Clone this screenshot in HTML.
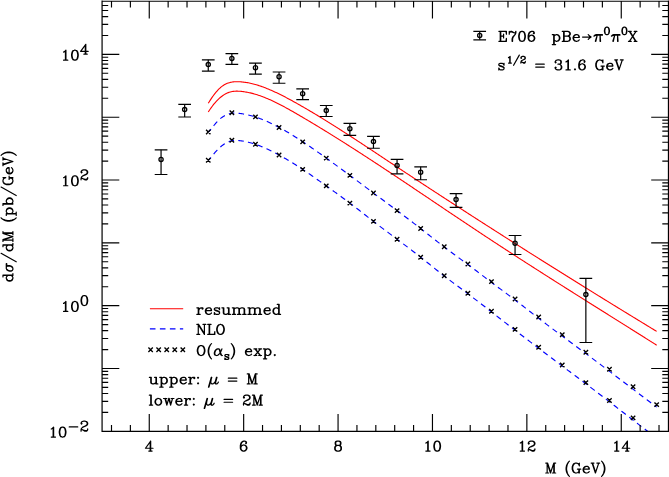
<!DOCTYPE html>
<html><head><meta charset="utf-8"><title>plot</title>
<style>html,body{margin:0;padding:0;background:#fff;font-family:"Liberation Serif",serif}svg{display:block}text{font-family:"Liberation Serif",serif;font-size:14px;fill:#000;fill-opacity:0;stroke:none}</style></head>
<body><svg width="669" height="477" viewBox="0 0 669 477">
<rect width="669" height="477" fill="#fff"/>
<g fill="none" stroke-linecap="butt" stroke-linejoin="round">
<path d="M208.26 131.98 L209.26 131.02 L210.26 129.99 L211.26 128.91 L212.26 127.59 L213.26 126.26 L214.26 125 L215.26 123.82 L216.26 122.7 L217.26 121.65 L218.26 120.64 L219.26 119.66 L220.26 118.73 L221.26 117.91 L222.26 117.17 L223.26 116.5 L224.26 115.91 L225.26 115.38 L226.26 114.9 L227.26 114.46 L228.26 114.07 L229.26 113.73 L230.26 113.46 L231.26 113.27 L232.26 113.17 L233.26 113.12 L234.26 113.1 L235.26 113.11 L236.26 113.15 L237.26 113.22 L238.26 113.3 L239.26 113.4 L240.26 113.51 L241.26 113.64 L242.26 113.79 L243.26 113.95 L244.26 114.12 L245.26 114.31 L246.26 114.51 L247.26 114.73 L248.26 114.96 L249.26 115.21 L250.26 115.46 L251.26 115.73 L252.26 116.02 L253.26 116.31 L254.26 116.62 L255.26 116.93 L256.26 117.26 L257.26 117.61 L258.26 117.96 L259.26 118.32 L260.26 118.69 L261.26 119.08 L262.26 119.47 L263.26 119.87 L264.26 120.29 L265.26 120.71 L266.26 121.14 L267.26 121.58 L268.26 122.03 L269.26 122.49 L270.26 122.96 L271.26 123.43 L272.26 123.92 L273.26 124.41 L274.26 124.9 L275.26 125.41 L276.26 125.92 L277.26 126.44 L278.26 126.97 L279.26 127.51 L280.26 128.05 L281.26 128.6 L282.26 129.16 L283.26 129.72 L284.26 130.29 L285.26 130.86 L286.26 131.44 L287.26 132.03 L288.26 132.62 L289.26 133.22 L290.26 133.83 L291.26 134.44 L292.26 135.05 L293.26 135.67 L294.26 136.29 L295.26 136.92 L296.26 137.56 L297.26 138.19 L298.26 138.83 L299.26 139.48 L300.26 140.13 L301.26 140.78 L302.26 141.44 L303.26 142.1 L304.26 142.76 L305.26 143.43 L306.26 144.1 L307.26 144.77 L308.26 145.45 L309.26 146.13 L310.26 146.82 L311.26 147.5 L312.26 148.19 L313.26 148.89 L314.26 149.58 L315.26 150.28 L316.26 150.98 L317.26 151.68 L318.26 152.39 L319.26 153.1 L320.26 153.81 L321.26 154.52 L322.26 155.23 L323.26 155.95 L324.26 156.66 L325.26 157.38 L326.26 158.1 L327.26 158.82 L328.26 159.54 L329.26 160.27 L330.26 160.99 L331.26 161.72 L332.26 162.45 L333.26 163.17 L334.26 163.9 L335.26 164.63 L336.26 165.37 L337.26 166.1 L338.26 166.83 L339.26 167.57 L340.26 168.3 L341.26 169.04 L342.26 169.77 L343.26 170.51 L344.26 171.25 L345.26 171.99 L346.26 172.73 L347.26 173.47 L348.26 174.21 L349.26 174.95 L350.26 175.7 L351.26 176.44 L352.26 177.18 L353.26 177.93 L354.26 178.67 L355.26 179.42 L356.26 180.16 L357.26 180.91 L358.26 181.65 L359.26 182.4 L360.26 183.14 L361.26 183.89 L362.26 184.64 L363.26 185.38 L364.26 186.13 L365.26 186.88 L366.26 187.62 L367.26 188.37 L368.26 189.12 L369.26 189.86 L370.26 190.61 L371.26 191.36 L372.26 192.1 L373.26 192.85 L374.26 193.6 L375.26 194.34 L376.26 195.09 L377.26 195.83 L378.26 196.58 L379.26 197.32 L380.26 198.07 L381.26 198.81 L382.26 199.56 L383.26 200.3 L384.26 201.05 L385.26 201.79 L386.26 202.54 L387.26 203.29 L388.26 204.03 L389.26 204.78 L390.26 205.52 L391.26 206.27 L392.26 207.01 L393.26 207.76 L394.26 208.51 L395.26 209.25 L396.26 210 L397.26 210.75 L398.26 211.5 L399.26 212.25 L400.26 213 L401.26 213.75 L402.26 214.5 L403.26 215.25 L404.26 216 L405.26 216.76 L406.26 217.51 L407.26 218.27 L408.26 219.03 L409.26 219.79 L410.26 220.55 L411.26 221.31 L412.26 222.07 L413.26 222.84 L414.26 223.6 L415.26 224.37 L416.26 225.14 L417.26 225.91 L418.26 226.69 L419.26 227.46 L420.26 228.24 L421.26 229.02 L422.26 229.8 L423.26 230.58 L424.26 231.37 L425.26 232.15 L426.26 232.94 L427.26 233.73 L428.26 234.52 L429.26 235.31 L430.26 236.09 L431.26 236.88 L432.26 237.67 L433.26 238.46 L434.26 239.24 L435.26 240.03 L436.26 240.81 L437.26 241.59 L438.26 242.37 L439.26 243.15 L440.26 243.93 L441.26 244.7 L442.26 245.47 L443.26 246.24 L444.26 247 L445.26 247.76 L446.26 248.52 L447.26 249.27 L448.26 250.02 L449.26 250.77 L450.26 251.51 L451.26 252.25 L452.26 252.99 L453.26 253.73 L454.26 254.47 L455.26 255.21 L456.26 255.94 L457.26 256.68 L458.26 257.41 L459.26 258.15 L460.26 258.88 L461.26 259.62 L462.26 260.36 L463.26 261.09 L464.26 261.83 L465.26 262.57 L466.26 263.31 L467.26 264.05 L468.26 264.8 L469.26 265.55 L470.26 266.29 L471.26 267.05 L472.26 267.8 L473.26 268.55 L474.26 269.31 L475.26 270.07 L476.26 270.82 L477.26 271.58 L478.26 272.34 L479.26 273.1 L480.26 273.86 L481.26 274.62 L482.26 275.38 L483.26 276.14 L484.26 276.9 L485.26 277.66 L486.26 278.42 L487.26 279.18 L488.26 279.94 L489.26 280.69 L490.26 281.45 L491.26 282.2 L492.26 282.95 L493.26 283.7 L494.26 284.45 L495.26 285.19 L496.26 285.94 L497.26 286.68 L498.26 287.43 L499.26 288.17 L500.26 288.91 L501.26 289.66 L502.26 290.4 L503.26 291.14 L504.26 291.89 L505.26 292.63 L506.26 293.38 L507.26 294.12 L508.26 294.87 L509.26 295.62 L510.26 296.37 L511.26 297.12 L512.26 297.88 L513.26 298.63 L514.26 299.39 L515.26 300.15 L516.26 300.92 L517.26 301.68 L518.26 302.45 L519.26 303.22 L520.26 304 L521.26 304.77 L522.26 305.55 L523.26 306.32 L524.26 307.1 L525.26 307.88 L526.26 308.66 L527.26 309.44 L528.26 310.22 L529.26 311 L530.26 311.78 L531.26 312.56 L532.26 313.34 L533.26 314.12 L534.26 314.9 L535.26 315.67 L536.26 316.45 L537.26 317.22 L538.26 317.99 L539.26 318.76 L540.26 319.53 L541.26 320.29 L542.26 321.06 L543.26 321.82 L544.26 322.58 L545.26 323.33 L546.26 324.09 L547.26 324.85 L548.26 325.6 L549.26 326.35 L550.26 327.1 L551.26 327.85 L552.26 328.6 L553.26 329.35 L554.26 330.1 L555.26 330.84 L556.26 331.59 L557.26 332.33 L558.26 333.08 L559.26 333.82 L560.26 334.56 L561.26 335.31 L562.26 336.05 L563.26 336.79 L564.26 337.54 L565.26 338.28 L566.26 339.02 L567.26 339.76 L568.26 340.51 L569.26 341.25 L570.26 341.99 L571.26 342.74 L572.26 343.48 L573.26 344.22 L574.26 344.97 L575.26 345.71 L576.26 346.45 L577.26 347.2 L578.26 347.94 L579.26 348.68 L580.26 349.43 L581.26 350.17 L582.26 350.92 L583.26 351.66 L584.26 352.41 L585.26 353.15 L586.26 353.9 L587.26 354.64 L588.26 355.39 L589.26 356.14 L590.26 356.88 L591.26 357.63 L592.26 358.38 L593.26 359.13 L594.26 359.88 L595.26 360.63 L596.26 361.37 L597.26 362.12 L598.26 362.87 L599.26 363.62 L600.26 364.37 L601.26 365.13 L602.26 365.88 L603.26 366.63 L604.26 367.38 L605.26 368.13 L606.26 368.89 L607.26 369.64 L608.26 370.39 L609.26 371.15 L610.26 371.9 L611.26 372.66 L612.26 373.41 L613.26 374.17 L614.26 374.93 L615.26 375.68 L616.26 376.44 L617.26 377.2 L618.26 377.96 L619.26 378.71 L620.26 379.47 L621.26 380.23 L622.26 380.99 L623.26 381.75 L624.26 382.51 L625.26 383.27 L626.26 384.03 L627.26 384.79 L628.26 385.55 L629.26 386.31 L630.26 387.07 L631.26 387.83 L632.26 388.59 L633.26 389.35 L634.26 390.11 L635.26 390.87 L636.26 391.64 L637.26 392.4 L638.26 393.16 L639.26 393.92 L640.26 394.68 L641.26 395.44 L642.26 396.2 L643.26 396.96 L644.26 397.72 L645.26 398.49 L646.26 399.25 L647.26 400.01 L648.26 400.77 L649.26 401.53 L650.26 402.29 L651.26 403.05 L652.26 403.81 L653.26 404.57 L654.26 405.33 L655.26 406.09 L656.66 407.15" stroke="#00f" stroke-width="1.15" stroke-dasharray="5.5 4.32" stroke-dashoffset="1.6"/>
<path d="M208.26 160.28 L209.26 159.34 L210.26 158.31 L211.26 157.25 L212.26 155.95 L213.26 154.63 L214.26 153.39 L215.26 152.21 L216.26 151.1 L217.26 150.05 L218.26 149.03 L219.26 148.03 L220.26 147.08 L221.26 146.21 L222.26 145.42 L223.26 144.69 L224.26 144.03 L225.26 143.42 L226.26 142.85 L227.26 142.32 L228.26 141.84 L229.26 141.43 L230.26 141.08 L231.26 140.81 L232.26 140.64 L233.26 140.53 L234.26 140.46 L235.26 140.42 L236.26 140.42 L237.26 140.45 L238.26 140.52 L239.26 140.61 L240.26 140.72 L241.26 140.85 L242.26 141 L243.26 141.16 L244.26 141.34 L245.26 141.53 L246.26 141.74 L247.26 141.96 L248.26 142.2 L249.26 142.45 L250.26 142.72 L251.26 143 L252.26 143.29 L253.26 143.59 L254.26 143.91 L255.26 144.23 L256.26 144.57 L257.26 144.92 L258.26 145.29 L259.26 145.66 L260.26 146.05 L261.26 146.44 L262.26 146.85 L263.26 147.26 L264.26 147.69 L265.26 148.13 L266.26 148.57 L267.26 149.03 L268.26 149.49 L269.26 149.96 L270.26 150.44 L271.26 150.93 L272.26 151.43 L273.26 151.93 L274.26 152.44 L275.26 152.96 L276.26 153.49 L277.26 154.02 L278.26 154.56 L279.26 155.11 L280.26 155.66 L281.26 156.22 L282.26 156.78 L283.26 157.36 L284.26 157.93 L285.26 158.51 L286.26 159.1 L287.26 159.69 L288.26 160.29 L289.26 160.89 L290.26 161.5 L291.26 162.11 L292.26 162.73 L293.26 163.35 L294.26 163.97 L295.26 164.6 L296.26 165.24 L297.26 165.88 L298.26 166.52 L299.26 167.17 L300.26 167.82 L301.26 168.48 L302.26 169.13 L303.26 169.8 L304.26 170.47 L305.26 171.14 L306.26 171.82 L307.26 172.5 L308.26 173.18 L309.26 173.87 L310.26 174.56 L311.26 175.26 L312.26 175.95 L313.26 176.65 L314.26 177.36 L315.26 178.06 L316.26 178.77 L317.26 179.47 L318.26 180.18 L319.26 180.9 L320.26 181.61 L321.26 182.32 L322.26 183.04 L323.26 183.75 L324.26 184.47 L325.26 185.18 L326.26 185.9 L327.26 186.62 L328.26 187.33 L329.26 188.05 L330.26 188.76 L331.26 189.48 L332.26 190.2 L333.26 190.92 L334.26 191.64 L335.26 192.36 L336.26 193.08 L337.26 193.8 L338.26 194.53 L339.26 195.25 L340.26 195.98 L341.26 196.71 L342.26 197.44 L343.26 198.18 L344.26 198.92 L345.26 199.66 L346.26 200.4 L347.26 201.15 L348.26 201.89 L349.26 202.65 L350.26 203.4 L351.26 204.16 L352.26 204.93 L353.26 205.69 L354.26 206.46 L355.26 207.23 L356.26 208 L357.26 208.78 L358.26 209.56 L359.26 210.33 L360.26 211.11 L361.26 211.89 L362.26 212.68 L363.26 213.46 L364.26 214.24 L365.26 215.02 L366.26 215.8 L367.26 216.58 L368.26 217.36 L369.26 218.14 L370.26 218.92 L371.26 219.7 L372.26 220.47 L373.26 221.25 L374.26 222.02 L375.26 222.78 L376.26 223.55 L377.26 224.31 L378.26 225.08 L379.26 225.84 L380.26 226.6 L381.26 227.35 L382.26 228.11 L383.26 228.86 L384.26 229.62 L385.26 230.37 L386.26 231.12 L387.26 231.87 L388.26 232.62 L389.26 233.37 L390.26 234.12 L391.26 234.86 L392.26 235.61 L393.26 236.36 L394.26 237.11 L395.26 237.85 L396.26 238.6 L397.26 239.35 L398.26 240.1 L399.26 240.85 L400.26 241.6 L401.26 242.35 L402.26 243.1 L403.26 243.85 L404.26 244.6 L405.26 245.35 L406.26 246.11 L407.26 246.87 L408.26 247.62 L409.26 248.38 L410.26 249.15 L411.26 249.91 L412.26 250.67 L413.26 251.44 L414.26 252.21 L415.26 252.98 L416.26 253.76 L417.26 254.54 L418.26 255.32 L419.26 256.1 L420.26 256.88 L421.26 257.67 L422.26 258.47 L423.26 259.26 L424.26 260.06 L425.26 260.85 L426.26 261.66 L427.26 262.46 L428.26 263.26 L429.26 264.06 L430.26 264.87 L431.26 265.67 L432.26 266.48 L433.26 267.28 L434.26 268.08 L435.26 268.88 L436.26 269.68 L437.26 270.48 L438.26 271.28 L439.26 272.07 L440.26 272.86 L441.26 273.65 L442.26 274.44 L443.26 275.22 L444.26 276 L445.26 276.77 L446.26 277.54 L447.26 278.31 L448.26 279.08 L449.26 279.84 L450.26 280.59 L451.26 281.35 L452.26 282.1 L453.26 282.85 L454.26 283.6 L455.26 284.35 L456.26 285.09 L457.26 285.84 L458.26 286.58 L459.26 287.33 L460.26 288.07 L461.26 288.82 L462.26 289.56 L463.26 290.31 L464.26 291.05 L465.26 291.8 L466.26 292.55 L467.26 293.3 L468.26 294.05 L469.26 294.81 L470.26 295.56 L471.26 296.32 L472.26 297.08 L473.26 297.84 L474.26 298.61 L475.26 299.37 L476.26 300.14 L477.26 300.9 L478.26 301.67 L479.26 302.44 L480.26 303.21 L481.26 303.99 L482.26 304.76 L483.26 305.53 L484.26 306.31 L485.26 307.08 L486.26 307.86 L487.26 308.64 L488.26 309.41 L489.26 310.19 L490.26 310.97 L491.26 311.74 L492.26 312.52 L493.26 313.3 L494.26 314.08 L495.26 314.85 L496.26 315.63 L497.26 316.41 L498.26 317.19 L499.26 317.96 L500.26 318.74 L501.26 319.52 L502.26 320.29 L503.26 321.07 L504.26 321.85 L505.26 322.62 L506.26 323.4 L507.26 324.17 L508.26 324.95 L509.26 325.72 L510.26 326.49 L511.26 327.27 L512.26 328.04 L513.26 328.81 L514.26 329.58 L515.26 330.35 L516.26 331.12 L517.26 331.89 L518.26 332.66 L519.26 333.43 L520.26 334.2 L521.26 334.97 L522.26 335.73 L523.26 336.5 L524.26 337.26 L525.26 338.03 L526.26 338.8 L527.26 339.56 L528.26 340.32 L529.26 341.09 L530.26 341.85 L531.26 342.61 L532.26 343.38 L533.26 344.14 L534.26 344.9 L535.26 345.66 L536.26 346.42 L537.26 347.18 L538.26 347.95 L539.26 348.71 L540.26 349.47 L541.26 350.23 L542.26 350.99 L543.26 351.75 L544.26 352.51 L545.26 353.27 L546.26 354.03 L547.26 354.78 L548.26 355.54 L549.26 356.3 L550.26 357.06 L551.26 357.81 L552.26 358.57 L553.26 359.33 L554.26 360.08 L555.26 360.84 L556.26 361.59 L557.26 362.34 L558.26 363.1 L559.26 363.85 L560.26 364.6 L561.26 365.35 L562.26 366.1 L563.26 366.85 L564.26 367.6 L565.26 368.35 L566.26 369.09 L567.26 369.84 L568.26 370.59 L569.26 371.33 L570.26 372.08 L571.26 372.82 L572.26 373.57 L573.26 374.32 L574.26 375.06 L575.26 375.81 L576.26 376.55 L577.26 377.3 L578.26 378.05 L579.26 378.8 L580.26 379.54 L581.26 380.29 L582.26 381.04 L583.26 381.79 L584.26 382.55 L585.26 383.3 L586.26 384.05 L587.26 384.81 L588.26 385.56 L589.26 386.32 L590.26 387.08 L591.26 387.84 L592.26 388.6 L593.26 389.36 L594.26 390.12 L595.26 390.88 L596.26 391.64 L597.26 392.41 L598.26 393.17 L599.26 393.94 L600.26 394.71 L601.26 395.48 L602.26 396.24 L603.26 397.01 L604.26 397.78 L605.26 398.55 L606.26 399.33 L607.26 400.1 L608.26 400.87 L609.26 401.65 L610.26 402.42 L611.26 403.19 L612.26 403.97 L613.26 404.75 L614.26 405.52 L615.26 406.3 L616.26 407.07 L617.26 407.85 L618.26 408.63 L619.26 409.41 L620.26 410.18 L621.26 410.96 L622.26 411.74 L623.26 412.51 L624.26 413.29 L625.26 414.07 L626.26 414.84 L627.26 415.62 L628.26 416.39 L629.26 417.17 L630.26 417.94 L631.26 418.71 L632.26 419.48 L633.26 420.25 L634.26 421.02 L635.26 421.79 L636.26 422.56 L637.26 423.33 L638.26 424.09 L639.26 424.86 L640.26 425.62 L641.26 426.38 L642.26 427.14 L643.26 427.9 L644.26 428.66 L645.26 429.42 L646.26 430.17 L647.26 430.92 L648.26 431.67 L649.26 432.42 L650.26 433.17 L651.26 433.92 L652.26 434.66 L653.26 435.4 L654.26 436.14 L655.26 436.87 L656.66 437.9" stroke="#00f" stroke-width="1.15" stroke-dasharray="5.5 4.32" stroke-dashoffset="1.6" clip-path="url(#cp)"/>
<path d="M149.9 328.9H183.2" stroke="#00f" stroke-width="1.15" stroke-dasharray="5.6 4.4"/>
<path d="M208.26 103.33 L209.26 101.69 L210.26 100.11 L211.26 98.58 L212.26 97.12 L213.26 95.72 L214.26 94.39 L215.26 93.11 L216.26 91.91 L217.26 90.77 L218.26 89.7 L219.26 88.71 L220.26 87.78 L221.26 86.93 L222.26 86.15 L223.26 85.44 L224.26 84.82 L225.26 84.26 L226.26 83.77 L227.26 83.34 L228.26 82.98 L229.26 82.67 L230.26 82.41 L231.26 82.2 L232.26 82.03 L233.26 81.9 L234.26 81.81 L235.26 81.75 L236.26 81.73 L237.26 81.72 L238.26 81.74 L239.26 81.77 L240.26 81.82 L241.26 81.89 L242.26 81.98 L243.26 82.08 L244.26 82.2 L245.26 82.33 L246.26 82.48 L247.26 82.64 L248.26 82.82 L249.26 83.02 L250.26 83.22 L251.26 83.45 L252.26 83.68 L253.26 83.93 L254.26 84.19 L255.26 84.47 L256.26 84.76 L257.26 85.06 L258.26 85.37 L259.26 85.69 L260.26 86.02 L261.26 86.37 L262.26 86.72 L263.26 87.09 L264.26 87.46 L265.26 87.85 L266.26 88.24 L267.26 88.64 L268.26 89.06 L269.26 89.47 L270.26 89.9 L271.26 90.34 L272.26 90.78 L273.26 91.23 L274.26 91.69 L275.26 92.15 L276.26 92.62 L277.26 93.09 L278.26 93.58 L279.26 94.06 L280.26 94.56 L281.26 95.06 L282.26 95.56 L283.26 96.07 L284.26 96.58 L285.26 97.1 L286.26 97.63 L287.26 98.15 L288.26 98.69 L289.26 99.22 L290.26 99.76 L291.26 100.31 L292.26 100.85 L293.26 101.41 L294.26 101.96 L295.26 102.52 L296.26 103.08 L297.26 103.64 L298.26 104.2 L299.26 104.77 L300.26 105.34 L301.26 105.91 L302.26 106.49 L303.26 107.06 L304.26 107.64 L305.26 108.22 L306.26 108.8 L307.26 109.39 L308.26 109.98 L309.26 110.56 L310.26 111.16 L311.26 111.75 L312.26 112.34 L313.26 112.94 L314.26 113.54 L315.26 114.14 L316.26 114.74 L317.26 115.34 L318.26 115.95 L319.26 116.56 L320.26 117.17 L321.26 117.78 L322.26 118.39 L323.26 119.01 L324.26 119.62 L325.26 120.24 L326.26 120.86 L327.26 121.48 L328.26 122.1 L329.26 122.72 L330.26 123.35 L331.26 123.98 L332.26 124.6 L333.26 125.23 L334.26 125.86 L335.26 126.5 L336.26 127.13 L337.26 127.76 L338.26 128.4 L339.26 129.04 L340.26 129.68 L341.26 130.32 L342.26 130.96 L343.26 131.6 L344.26 132.24 L345.26 132.88 L346.26 133.53 L347.26 134.17 L348.26 134.82 L349.26 135.47 L350.26 136.12 L351.26 136.77 L352.26 137.42 L353.26 138.07 L354.26 138.72 L355.26 139.37 L356.26 140.03 L357.26 140.68 L358.26 141.34 L359.26 141.99 L360.26 142.65 L361.26 143.31 L362.26 143.96 L363.26 144.62 L364.26 145.28 L365.26 145.94 L366.26 146.6 L367.26 147.26 L368.26 147.92 L369.26 148.58 L370.26 149.24 L371.26 149.9 L372.26 150.57 L373.26 151.23 L374.26 151.89 L375.26 152.55 L376.26 153.22 L377.26 153.88 L378.26 154.54 L379.26 155.21 L380.26 155.87 L381.26 156.54 L382.26 157.2 L383.26 157.86 L384.26 158.53 L385.26 159.19 L386.26 159.85 L387.26 160.52 L388.26 161.18 L389.26 161.84 L390.26 162.51 L391.26 163.17 L392.26 163.83 L393.26 164.5 L394.26 165.16 L395.26 165.82 L396.26 166.48 L397.26 167.14 L398.26 167.81 L399.26 168.47 L400.26 169.13 L401.26 169.79 L402.26 170.45 L403.26 171.11 L404.26 171.77 L405.26 172.43 L406.26 173.09 L407.26 173.75 L408.26 174.41 L409.26 175.06 L410.26 175.72 L411.26 176.38 L412.26 177.04 L413.26 177.7 L414.26 178.35 L415.26 179.01 L416.26 179.67 L417.26 180.33 L418.26 180.98 L419.26 181.64 L420.26 182.3 L421.26 182.95 L422.26 183.61 L423.26 184.26 L424.26 184.92 L425.26 185.57 L426.26 186.23 L427.26 186.88 L428.26 187.54 L429.26 188.19 L430.26 188.84 L431.26 189.5 L432.26 190.15 L433.26 190.8 L434.26 191.46 L435.26 192.11 L436.26 192.76 L437.26 193.41 L438.26 194.07 L439.26 194.72 L440.26 195.37 L441.26 196.02 L442.26 196.67 L443.26 197.32 L444.26 197.97 L445.26 198.62 L446.26 199.27 L447.26 199.92 L448.26 200.57 L449.26 201.22 L450.26 201.87 L451.26 202.52 L452.26 203.17 L453.26 203.82 L454.26 204.47 L455.26 205.12 L456.26 205.76 L457.26 206.41 L458.26 207.06 L459.26 207.71 L460.26 208.35 L461.26 209 L462.26 209.65 L463.26 210.29 L464.26 210.94 L465.26 211.58 L466.26 212.23 L467.26 212.88 L468.26 213.52 L469.26 214.17 L470.26 214.81 L471.26 215.45 L472.26 216.1 L473.26 216.74 L474.26 217.39 L475.26 218.03 L476.26 218.67 L477.26 219.32 L478.26 219.96 L479.26 220.6 L480.26 221.25 L481.26 221.89 L482.26 222.53 L483.26 223.17 L484.26 223.81 L485.26 224.46 L486.26 225.1 L487.26 225.74 L488.26 226.38 L489.26 227.02 L490.26 227.66 L491.26 228.3 L492.26 228.94 L493.26 229.58 L494.26 230.22 L495.26 230.86 L496.26 231.5 L497.26 232.14 L498.26 232.77 L499.26 233.41 L500.26 234.05 L501.26 234.69 L502.26 235.33 L503.26 235.96 L504.26 236.6 L505.26 237.24 L506.26 237.88 L507.26 238.51 L508.26 239.15 L509.26 239.79 L510.26 240.42 L511.26 241.06 L512.26 241.69 L513.26 242.33 L514.26 242.96 L515.26 243.6 L516.26 244.23 L517.26 244.87 L518.26 245.5 L519.26 246.14 L520.26 246.77 L521.26 247.41 L522.26 248.04 L523.26 248.67 L524.26 249.31 L525.26 249.94 L526.26 250.57 L527.26 251.2 L528.26 251.84 L529.26 252.47 L530.26 253.1 L531.26 253.73 L532.26 254.36 L533.26 254.99 L534.26 255.63 L535.26 256.26 L536.26 256.89 L537.26 257.52 L538.26 258.15 L539.26 258.78 L540.26 259.41 L541.26 260.04 L542.26 260.67 L543.26 261.3 L544.26 261.92 L545.26 262.55 L546.26 263.18 L547.26 263.81 L548.26 264.44 L549.26 265.07 L550.26 265.69 L551.26 266.32 L552.26 266.95 L553.26 267.58 L554.26 268.2 L555.26 268.83 L556.26 269.46 L557.26 270.08 L558.26 270.71 L559.26 271.34 L560.26 271.96 L561.26 272.59 L562.26 273.21 L563.26 273.84 L564.26 274.46 L565.26 275.09 L566.26 275.71 L567.26 276.34 L568.26 276.96 L569.26 277.58 L570.26 278.21 L571.26 278.83 L572.26 279.46 L573.26 280.08 L574.26 280.7 L575.26 281.32 L576.26 281.95 L577.26 282.57 L578.26 283.19 L579.26 283.81 L580.26 284.44 L581.26 285.06 L582.26 285.68 L583.26 286.3 L584.26 286.92 L585.26 287.54 L586.26 288.16 L587.26 288.78 L588.26 289.4 L589.26 290.02 L590.26 290.64 L591.26 291.26 L592.26 291.88 L593.26 292.5 L594.26 293.12 L595.26 293.74 L596.26 294.36 L597.26 294.98 L598.26 295.6 L599.26 296.21 L600.26 296.83 L601.26 297.45 L602.26 298.07 L603.26 298.68 L604.26 299.3 L605.26 299.92 L606.26 300.54 L607.26 301.15 L608.26 301.77 L609.26 302.38 L610.26 303 L611.26 303.62 L612.26 304.23 L613.26 304.85 L614.26 305.46 L615.26 306.08 L616.26 306.69 L617.26 307.31 L618.26 307.92 L619.26 308.54 L620.26 309.15 L621.26 309.77 L622.26 310.38 L623.26 310.99 L624.26 311.61 L625.26 312.22 L626.26 312.83 L627.26 313.45 L628.26 314.06 L629.26 314.67 L630.26 315.28 L631.26 315.9 L632.26 316.51 L633.26 317.12 L634.26 317.73 L635.26 318.34 L636.26 318.95 L637.26 319.56 L638.26 320.18 L639.26 320.79 L640.26 321.4 L641.26 322.01 L642.26 322.62 L643.26 323.23 L644.26 323.84 L645.26 324.45 L646.26 325.06 L647.26 325.67 L648.26 326.27 L649.26 326.88 L650.26 327.49 L651.26 328.1 L652.26 328.71 L653.26 329.32 L654.26 329.92 L655.26 330.53 L656.66 331.38M208.26 111.97 L209.26 110.45 L210.26 108.99 L211.26 107.58 L212.26 106.23 L213.26 104.94 L214.26 103.71 L215.26 102.53 L216.26 101.42 L217.26 100.36 L218.26 99.36 L219.26 98.41 L220.26 97.53 L221.26 96.71 L222.26 95.94 L223.26 95.24 L224.26 94.6 L225.26 94.01 L226.26 93.49 L227.26 93.03 L228.26 92.63 L229.26 92.28 L230.26 91.99 L231.26 91.74 L232.26 91.55 L233.26 91.39 L234.26 91.28 L235.26 91.21 L236.26 91.17 L237.26 91.16 L238.26 91.19 L239.26 91.23 L240.26 91.31 L241.26 91.4 L242.26 91.5 L243.26 91.63 L244.26 91.77 L245.26 91.92 L246.26 92.09 L247.26 92.27 L248.26 92.47 L249.26 92.68 L250.26 92.9 L251.26 93.14 L252.26 93.39 L253.26 93.65 L254.26 93.93 L255.26 94.22 L256.26 94.52 L257.26 94.83 L258.26 95.16 L259.26 95.49 L260.26 95.84 L261.26 96.19 L262.26 96.56 L263.26 96.94 L264.26 97.33 L265.26 97.73 L266.26 98.14 L267.26 98.55 L268.26 98.98 L269.26 99.41 L270.26 99.86 L271.26 100.31 L272.26 100.77 L273.26 101.24 L274.26 101.71 L275.26 102.2 L276.26 102.69 L277.26 103.18 L278.26 103.69 L279.26 104.2 L280.26 104.71 L281.26 105.23 L282.26 105.76 L283.26 106.29 L284.26 106.83 L285.26 107.37 L286.26 107.92 L287.26 108.47 L288.26 109.03 L289.26 109.58 L290.26 110.15 L291.26 110.71 L292.26 111.28 L293.26 111.85 L294.26 112.43 L295.26 113 L296.26 113.58 L297.26 114.16 L298.26 114.74 L299.26 115.33 L300.26 115.91 L301.26 116.5 L302.26 117.08 L303.26 117.67 L304.26 118.26 L305.26 118.85 L306.26 119.44 L307.26 120.04 L308.26 120.63 L309.26 121.23 L310.26 121.82 L311.26 122.42 L312.26 123.02 L313.26 123.62 L314.26 124.22 L315.26 124.83 L316.26 125.43 L317.26 126.03 L318.26 126.64 L319.26 127.25 L320.26 127.86 L321.26 128.47 L322.26 129.08 L323.26 129.69 L324.26 130.3 L325.26 130.92 L326.26 131.53 L327.26 132.15 L328.26 132.76 L329.26 133.38 L330.26 134 L331.26 134.62 L332.26 135.24 L333.26 135.87 L334.26 136.49 L335.26 137.11 L336.26 137.74 L337.26 138.36 L338.26 138.99 L339.26 139.62 L340.26 140.25 L341.26 140.88 L342.26 141.51 L343.26 142.14 L344.26 142.77 L345.26 143.41 L346.26 144.04 L347.26 144.68 L348.26 145.31 L349.26 145.95 L350.26 146.59 L351.26 147.22 L352.26 147.86 L353.26 148.5 L354.26 149.14 L355.26 149.79 L356.26 150.43 L357.26 151.07 L358.26 151.72 L359.26 152.36 L360.26 153.01 L361.26 153.65 L362.26 154.3 L363.26 154.95 L364.26 155.59 L365.26 156.24 L366.26 156.89 L367.26 157.54 L368.26 158.19 L369.26 158.84 L370.26 159.5 L371.26 160.15 L372.26 160.8 L373.26 161.46 L374.26 162.11 L375.26 162.77 L376.26 163.42 L377.26 164.08 L378.26 164.74 L379.26 165.39 L380.26 166.05 L381.26 166.71 L382.26 167.37 L383.26 168.03 L384.26 168.69 L385.26 169.35 L386.26 170.01 L387.26 170.67 L388.26 171.33 L389.26 171.99 L390.26 172.66 L391.26 173.32 L392.26 173.98 L393.26 174.65 L394.26 175.31 L395.26 175.98 L396.26 176.64 L397.26 177.31 L398.26 177.97 L399.26 178.64 L400.26 179.31 L401.26 179.97 L402.26 180.64 L403.26 181.31 L404.26 181.98 L405.26 182.64 L406.26 183.31 L407.26 183.98 L408.26 184.65 L409.26 185.32 L410.26 185.99 L411.26 186.66 L412.26 187.33 L413.26 188 L414.26 188.67 L415.26 189.34 L416.26 190.01 L417.26 190.68 L418.26 191.35 L419.26 192.02 L420.26 192.7 L421.26 193.37 L422.26 194.04 L423.26 194.71 L424.26 195.38 L425.26 196.05 L426.26 196.73 L427.26 197.4 L428.26 198.07 L429.26 198.74 L430.26 199.41 L431.26 200.09 L432.26 200.76 L433.26 201.43 L434.26 202.1 L435.26 202.78 L436.26 203.45 L437.26 204.12 L438.26 204.79 L439.26 205.47 L440.26 206.14 L441.26 206.81 L442.26 207.48 L443.26 208.15 L444.26 208.83 L445.26 209.5 L446.26 210.17 L447.26 210.84 L448.26 211.51 L449.26 212.18 L450.26 212.85 L451.26 213.53 L452.26 214.2 L453.26 214.87 L454.26 215.54 L455.26 216.21 L456.26 216.88 L457.26 217.55 L458.26 218.22 L459.26 218.89 L460.26 219.56 L461.26 220.23 L462.26 220.89 L463.26 221.56 L464.26 222.23 L465.26 222.9 L466.26 223.57 L467.26 224.23 L468.26 224.9 L469.26 225.57 L470.26 226.23 L471.26 226.9 L472.26 227.56 L473.26 228.23 L474.26 228.89 L475.26 229.56 L476.26 230.22 L477.26 230.89 L478.26 231.55 L479.26 232.21 L480.26 232.87 L481.26 233.54 L482.26 234.2 L483.26 234.86 L484.26 235.52 L485.26 236.18 L486.26 236.84 L487.26 237.5 L488.26 238.15 L489.26 238.81 L490.26 239.47 L491.26 240.13 L492.26 240.78 L493.26 241.44 L494.26 242.09 L495.26 242.75 L496.26 243.4 L497.26 244.06 L498.26 244.71 L499.26 245.36 L500.26 246.02 L501.26 246.67 L502.26 247.32 L503.26 247.97 L504.26 248.62 L505.26 249.27 L506.26 249.92 L507.26 250.57 L508.26 251.22 L509.26 251.87 L510.26 252.52 L511.26 253.17 L512.26 253.82 L513.26 254.46 L514.26 255.11 L515.26 255.76 L516.26 256.4 L517.26 257.05 L518.26 257.69 L519.26 258.34 L520.26 258.98 L521.26 259.63 L522.26 260.27 L523.26 260.91 L524.26 261.56 L525.26 262.2 L526.26 262.84 L527.26 263.48 L528.26 264.13 L529.26 264.77 L530.26 265.41 L531.26 266.05 L532.26 266.69 L533.26 267.33 L534.26 267.97 L535.26 268.61 L536.26 269.25 L537.26 269.89 L538.26 270.52 L539.26 271.16 L540.26 271.8 L541.26 272.44 L542.26 273.08 L543.26 273.71 L544.26 274.35 L545.26 274.99 L546.26 275.62 L547.26 276.26 L548.26 276.89 L549.26 277.53 L550.26 278.16 L551.26 278.8 L552.26 279.43 L553.26 280.07 L554.26 280.7 L555.26 281.34 L556.26 281.97 L557.26 282.6 L558.26 283.24 L559.26 283.87 L560.26 284.5 L561.26 285.14 L562.26 285.77 L563.26 286.4 L564.26 287.03 L565.26 287.67 L566.26 288.3 L567.26 288.93 L568.26 289.56 L569.26 290.19 L570.26 290.82 L571.26 291.45 L572.26 292.08 L573.26 292.72 L574.26 293.35 L575.26 293.98 L576.26 294.61 L577.26 295.24 L578.26 295.87 L579.26 296.5 L580.26 297.13 L581.26 297.76 L582.26 298.38 L583.26 299.01 L584.26 299.64 L585.26 300.27 L586.26 300.9 L587.26 301.53 L588.26 302.16 L589.26 302.79 L590.26 303.42 L591.26 304.04 L592.26 304.67 L593.26 305.3 L594.26 305.93 L595.26 306.56 L596.26 307.19 L597.26 307.81 L598.26 308.44 L599.26 309.07 L600.26 309.7 L601.26 310.33 L602.26 310.95 L603.26 311.58 L604.26 312.21 L605.26 312.84 L606.26 313.46 L607.26 314.09 L608.26 314.72 L609.26 315.35 L610.26 315.97 L611.26 316.6 L612.26 317.23 L613.26 317.86 L614.26 318.49 L615.26 319.11 L616.26 319.74 L617.26 320.37 L618.26 321 L619.26 321.62 L620.26 322.25 L621.26 322.88 L622.26 323.51 L623.26 324.14 L624.26 324.76 L625.26 325.39 L626.26 326.02 L627.26 326.65 L628.26 327.28 L629.26 327.9 L630.26 328.53 L631.26 329.16 L632.26 329.79 L633.26 330.42 L634.26 331.05 L635.26 331.67 L636.26 332.3 L637.26 332.93 L638.26 333.56 L639.26 334.19 L640.26 334.82 L641.26 335.45 L642.26 336.08 L643.26 336.71 L644.26 337.34 L645.26 337.97 L646.26 338.6 L647.26 339.23 L648.26 339.86 L649.26 340.49 L650.26 341.12 L651.26 341.75 L652.26 342.38 L653.26 343.01 L654.26 343.64 L655.26 344.28 L656.66 345.16M149.9 308.7H183.2" stroke="#f00" stroke-width="1.1"/>
<path d="M206.06 129.8L210.46 134.2M206.06 134.2L210.46 129.8M229.66 110.5L234.06 114.9M229.66 114.9L234.06 110.5M253.26 114.7L257.66 119.1M253.26 119.1L257.66 114.7M276.86 125.3L281.26 129.7M276.86 129.7L281.26 125.3M300.46 139.7L304.86 144.1M300.46 144.1L304.86 139.7M324.06 155.9L328.46 160.3M324.06 160.3L328.46 155.9M347.66 173.2L352.06 177.6M347.66 177.6L352.06 173.2M371.26 190.8L375.66 195.2M371.26 195.2L375.66 190.8M394.86 208.4L399.26 212.8M394.86 212.8L399.26 208.4M418.46 226.35L422.86 230.75M418.46 230.75L422.86 226.35M442.06 244.5L446.46 248.9M442.06 248.9L446.46 244.5M465.66 261.8L470.06 266.2M465.66 266.2L470.06 261.8M489.26 279.4L493.66 283.8M489.26 283.8L493.66 279.4M512.86 296.8L517.26 301.2M512.86 301.2L517.26 296.8M536.46 314.8L540.86 319.2M536.46 319.2L540.86 314.8M560.06 332.5L564.46 336.9M560.06 336.9L564.46 332.5M583.66 350L588.06 354.4M583.66 354.4L588.06 350M607.26 367.1L611.66 371.5M607.26 371.5L611.66 367.1M630.86 384.5L635.26 388.9M630.86 388.9L635.26 384.5M654.46 402.4L658.86 406.8M654.46 406.8L658.86 402.4M206.06 158.1L210.46 162.5M206.06 162.5L210.46 158.1M229.66 138L234.06 142.4M229.66 142.4L234.06 138M253.26 142L257.66 146.4M253.26 146.4L257.66 142M276.86 152.8L281.26 157.2M276.86 157.2L281.26 152.8M300.46 167.2L304.86 171.6M300.46 171.6L304.86 167.2M324.06 183.7L328.46 188.1M324.06 188.1L328.46 183.7M347.66 200.9L352.06 205.3M347.66 205.3L352.06 200.9M371.26 219.2L375.66 223.6M371.26 223.6L375.66 219.2M394.86 237L399.26 241.4M394.86 241.4L399.26 237M418.46 255L422.86 259.4M418.46 259.4L422.86 255M442.06 273.5L446.46 277.9M442.06 277.9L446.46 273.5M465.66 291L470.06 295.4M465.66 295.4L470.06 291M489.26 309L493.66 313.4M489.26 313.4L493.66 309M512.86 327.2L517.26 331.6M512.86 331.6L517.26 327.2M536.46 345L540.86 349.4M536.46 349.4L540.86 345M560.06 362.8L564.46 367.2M560.06 367.2L564.46 362.8M583.66 380.45L588.06 384.85M583.66 384.85L588.06 380.45M607.26 398.3L611.66 402.7M607.26 402.7L611.66 398.3M630.86 415.7L635.26 420.1M630.86 420.1L635.26 415.7M148.4 347.6L152.8 352M148.4 352L152.8 347.6M156.45 347.6L160.85 352M156.45 352L160.85 347.6M164.5 347.6L168.9 352M164.5 352L168.9 347.6M172.55 347.6L176.95 352M172.55 352L176.95 347.6M180.6 347.6L185 352M180.6 352L185 347.6" stroke="#000" stroke-width="1.35"/>
<path d="M161.06 149.8L161.06 174.5M184.66 104.3L184.66 117M208.26 59.8L208.26 71.1M231.86 53.6L231.86 64.3M255.46 63.1L255.46 74.1M279.06 72L279.06 83.2M302.66 88.9L302.66 99.6M326.26 105.5L326.26 116.5M349.86 123.3L349.86 135.3M373.46 136.3L373.46 148.2M397.06 159.4L397.06 173.8M420.66 166.8L420.66 179.7M456.06 193.55L456.06 207.3M515.06 235.5L515.06 254.5M585.86 278.3L585.86 342.5M479.7 31.4L479.7 39.8" stroke="#000" stroke-width="1.2"/>
<path d="M154.71 149.8L167.41 149.8M154.71 174.5L167.41 174.5M178.31 104.3L191.01 104.3M178.31 117L191.01 117M201.91 59.8L214.61 59.8M201.91 71.1L214.61 71.1M225.51 53.6L238.21 53.6M225.51 64.3L238.21 64.3M249.11 63.1L261.81 63.1M249.11 74.1L261.81 74.1M272.71 72L285.41 72M272.71 83.2L285.41 83.2M296.31 88.9L309.01 88.9M296.31 99.6L309.01 99.6M319.91 105.5L332.61 105.5M319.91 116.5L332.61 116.5M343.51 123.3L356.21 123.3M343.51 135.3L356.21 135.3M367.11 136.3L379.81 136.3M367.11 148.2L379.81 148.2M390.71 159.4L403.41 159.4M390.71 173.8L403.41 173.8M414.31 166.8L427.01 166.8M414.31 179.7L427.01 179.7M449.71 193.55L462.41 193.55M449.71 207.3L462.41 207.3M508.71 235.5L521.41 235.5M508.71 254.5L521.41 254.5M579.51 278.3L592.21 278.3M579.51 342.5L592.21 342.5M473.35 31.4L486.05 31.4M473.35 39.8L486.05 39.8" stroke="#000" stroke-width="1.15"/>
<g stroke="#000" stroke-width="1.3"><circle cx="161.06" cy="159.4" r="2.1"/><circle cx="184.66" cy="109.6" r="2.1"/><circle cx="208.26" cy="64.6" r="2.1"/><circle cx="231.86" cy="58.4" r="2.1"/><circle cx="255.46" cy="67.8" r="2.1"/><circle cx="279.06" cy="76.7" r="2.1"/><circle cx="302.66" cy="93.7" r="2.1"/><circle cx="326.26" cy="110.6" r="2.1"/><circle cx="349.86" cy="128.8" r="2.1"/><circle cx="373.46" cy="141.6" r="2.1"/><circle cx="397.06" cy="165.5" r="2.1"/><circle cx="420.66" cy="172.3" r="2.1"/><circle cx="456.06" cy="199.6" r="2.1"/><circle cx="515.06" cy="243.2" r="2.1"/><circle cx="585.86" cy="294.6" r="2.1"/><circle cx="479.7" cy="35.5" r="2.1"/></g>
<path d="M111.5 431.2L111.5 425M111.5 1L111.5 7.4M130.38 431.2L130.38 425M130.38 1L130.38 7.4M149.26 431.2L149.26 413.9M149.26 1L149.26 18.5M168.14 431.2L168.14 425M168.14 1L168.14 7.4M187.02 431.2L187.02 425M187.02 1L187.02 7.4M205.9 431.2L205.9 425M205.9 1L205.9 7.4M224.78 431.2L224.78 425M224.78 1L224.78 7.4M243.66 431.2L243.66 413.9M243.66 1L243.66 18.5M262.54 431.2L262.54 425M262.54 1L262.54 7.4M281.42 431.2L281.42 425M281.42 1L281.42 7.4M300.3 431.2L300.3 425M300.3 1L300.3 7.4M319.18 431.2L319.18 425M319.18 1L319.18 7.4M338.06 431.2L338.06 413.9M338.06 1L338.06 18.5M356.94 431.2L356.94 425M356.94 1L356.94 7.4M375.82 431.2L375.82 425M375.82 1L375.82 7.4M394.7 431.2L394.7 425M394.7 1L394.7 7.4M413.58 431.2L413.58 425M413.58 1L413.58 7.4M432.46 431.2L432.46 413.9M432.46 1L432.46 18.5M451.34 431.2L451.34 425M451.34 1L451.34 7.4M470.22 431.2L470.22 425M470.22 1L470.22 7.4M489.1 431.2L489.1 425M489.1 1L489.1 7.4M507.98 431.2L507.98 425M507.98 1L507.98 7.4M526.86 431.2L526.86 413.9M526.86 1L526.86 18.5M545.74 431.2L545.74 425M545.74 1L545.74 7.4M564.62 431.2L564.62 425M564.62 1L564.62 7.4M583.5 431.2L583.5 425M583.5 1L583.5 7.4M602.38 431.2L602.38 425M602.38 1L602.38 7.4M621.26 431.2L621.26 413.9M621.26 1L621.26 18.5M640.14 431.2L640.14 425M640.14 1L640.14 7.4M659.02 431.2L659.02 425M659.02 1L659.02 7.4M102 412.39L108.2 412.39M668.5 412.39L662.3 412.39M102 401.33L108.2 401.33M668.5 401.33L662.3 401.33M102 393.48L108.2 393.48M668.5 393.48L662.3 393.48M102 387.39L108.2 387.39M668.5 387.39L662.3 387.39M102 382.42L108.2 382.42M668.5 382.42L662.3 382.42M102 378.21L108.2 378.21M668.5 378.21L662.3 378.21M102 374.57L108.2 374.57M668.5 374.57L662.3 374.57M102 371.35L108.2 371.35M668.5 371.35L662.3 371.35M102 368.48L119.3 368.48M668.5 368.48L651.2 368.48M102 349.57L108.2 349.57M668.5 349.57L662.3 349.57M102 338.51L108.2 338.51M668.5 338.51L662.3 338.51M102 330.66L108.2 330.66M668.5 330.66L662.3 330.66M102 324.57L108.2 324.57M668.5 324.57L662.3 324.57M102 319.6L108.2 319.6M668.5 319.6L662.3 319.6M102 315.39L108.2 315.39M668.5 315.39L662.3 315.39M102 311.75L108.2 311.75M668.5 311.75L662.3 311.75M102 308.53L108.2 308.53M668.5 308.53L662.3 308.53M102 305.66L119.3 305.66M668.5 305.66L651.2 305.66M102 286.75L108.2 286.75M668.5 286.75L662.3 286.75M102 275.69L108.2 275.69M668.5 275.69L662.3 275.69M102 267.84L108.2 267.84M668.5 267.84L662.3 267.84M102 261.75L108.2 261.75M668.5 261.75L662.3 261.75M102 256.78L108.2 256.78M668.5 256.78L662.3 256.78M102 252.57L108.2 252.57M668.5 252.57L662.3 252.57M102 248.93L108.2 248.93M668.5 248.93L662.3 248.93M102 245.71L108.2 245.71M668.5 245.71L662.3 245.71M102 242.84L119.3 242.84M668.5 242.84L651.2 242.84M102 223.93L108.2 223.93M668.5 223.93L662.3 223.93M102 212.87L108.2 212.87M668.5 212.87L662.3 212.87M102 205.02L108.2 205.02M668.5 205.02L662.3 205.02M102 198.93L108.2 198.93M668.5 198.93L662.3 198.93M102 193.96L108.2 193.96M668.5 193.96L662.3 193.96M102 189.75L108.2 189.75M668.5 189.75L662.3 189.75M102 186.11L108.2 186.11M668.5 186.11L662.3 186.11M102 182.89L108.2 182.89M668.5 182.89L662.3 182.89M102 180.02L119.3 180.02M668.5 180.02L651.2 180.02M102 161.11L108.2 161.11M668.5 161.11L662.3 161.11M102 150.05L108.2 150.05M668.5 150.05L662.3 150.05M102 142.2L108.2 142.2M668.5 142.2L662.3 142.2M102 136.11L108.2 136.11M668.5 136.11L662.3 136.11M102 131.14L108.2 131.14M668.5 131.14L662.3 131.14M102 126.93L108.2 126.93M668.5 126.93L662.3 126.93M102 123.29L108.2 123.29M668.5 123.29L662.3 123.29M102 120.07L108.2 120.07M668.5 120.07L662.3 120.07M102 117.2L119.3 117.2M668.5 117.2L651.2 117.2M102 98.29L108.2 98.29M668.5 98.29L662.3 98.29M102 87.23L108.2 87.23M668.5 87.23L662.3 87.23M102 79.38L108.2 79.38M668.5 79.38L662.3 79.38M102 73.29L108.2 73.29M668.5 73.29L662.3 73.29M102 68.32L108.2 68.32M668.5 68.32L662.3 68.32M102 64.11L108.2 64.11M668.5 64.11L662.3 64.11M102 60.47L108.2 60.47M668.5 60.47L662.3 60.47M102 57.25L108.2 57.25M668.5 57.25L662.3 57.25M102 54.38L119.3 54.38M668.5 54.38L651.2 54.38M102 35.47L108.2 35.47M668.5 35.47L662.3 35.47M102 24.41L108.2 24.41M668.5 24.41L662.3 24.41M102 16.56L108.2 16.56M668.5 16.56L662.3 16.56M102 10.47L108.2 10.47M668.5 10.47L662.3 10.47M102 5.5L108.2 5.5M668.5 5.5L662.3 5.5" stroke="#000" stroke-width="1.15"/>
<path d="M102.08 0.6V432.05M668.45 0.6V432.05M101.5 1.25H669M101.5 431.45H669" stroke="#000" stroke-width="1.2"/>
<path d="M198.27 307.78 L198.27 314.4M198.74 307.78 L198.74 314.4M198.74 310.62 L199.21 309.2 L200.16 308.25 L201.1 307.78 L202.52 307.78 L203 308.25 L203 308.72 L202.52 309.2 L202.05 308.72 L202.52 308.25M196.85 307.78 L198.74 307.78M196.85 314.4 L200.16 314.4M205.83 310.62 L211.51 310.62 L211.51 309.67 L211.04 308.72 L210.56 308.25 L209.62 307.78 L208.2 307.78 L206.78 308.25 L205.83 309.2 L205.36 310.62 L205.36 311.56 L205.83 312.98 L206.78 313.93 L208.2 314.4 L209.14 314.4 L210.56 313.93 L211.51 312.98M211.04 310.62 L211.04 309.2 L210.56 308.25M208.2 307.78 L207.25 308.25 L206.31 309.2 L205.83 310.62 L205.83 311.56 L206.31 312.98 L207.25 313.93 L208.2 314.4M219.08 308.72 L219.55 307.78 L219.55 309.67 L219.08 308.72 L218.6 308.25 L217.66 307.78 L215.77 307.78 L214.82 308.25 L214.35 308.72 L214.35 309.67 L214.82 310.14 L215.77 310.62 L218.13 311.56 L219.08 312.03 L219.55 312.51M214.35 309.2 L214.82 309.67 L215.77 310.14 L218.13 311.09 L219.08 311.56 L219.55 312.03 L219.55 313.45 L219.08 313.93 L218.13 314.4 L216.24 314.4 L215.29 313.93 L214.82 313.45 L214.35 312.51 L214.35 314.4 L214.82 313.45M223.33 307.78 L223.33 312.98 L223.81 313.93 L225.23 314.4 L226.17 314.4 L227.59 313.93 L228.54 312.98M223.81 307.78 L223.81 312.98 L224.28 313.93 L225.23 314.4M228.54 307.78 L228.54 314.4M229.01 307.78 L229.01 314.4M221.91 307.78 L223.81 307.78M227.12 307.78 L229.01 307.78M228.54 314.4 L230.43 314.4M233.74 307.78 L233.74 314.4M234.21 307.78 L234.21 314.4M234.21 309.2 L235.16 308.25 L236.58 307.78 L237.52 307.78 L238.94 308.25 L239.42 309.2 L239.42 314.4M237.52 307.78 L238.47 308.25 L238.94 309.2 L238.94 314.4M239.42 309.2 L240.36 308.25 L241.78 307.78 L242.73 307.78 L244.15 308.25 L244.62 309.2 L244.62 314.4M242.73 307.78 L243.67 308.25 L244.15 309.2 L244.15 314.4M232.32 307.78 L234.21 307.78M232.32 314.4 L235.63 314.4M237.52 314.4 L240.84 314.4M242.73 314.4 L246.04 314.4M249.35 307.78 L249.35 314.4M249.82 307.78 L249.82 314.4M249.82 309.2 L250.77 308.25 L252.19 307.78 L253.13 307.78 L254.55 308.25 L255.03 309.2 L255.03 314.4M253.13 307.78 L254.08 308.25 L254.55 309.2 L254.55 314.4M255.03 309.2 L255.97 308.25 L257.39 307.78 L258.34 307.78 L259.75 308.25 L260.23 309.2 L260.23 314.4M258.34 307.78 L259.28 308.25 L259.75 309.2 L259.75 314.4M247.93 307.78 L249.82 307.78M247.93 314.4 L251.24 314.4M253.13 314.4 L256.44 314.4M258.34 314.4 L261.65 314.4M264.49 310.62 L270.16 310.62 L270.16 309.67 L269.69 308.72 L269.22 308.25 L268.27 307.78 L266.85 307.78 L265.43 308.25 L264.49 309.2 L264.01 310.62 L264.01 311.56 L264.49 312.98 L265.43 313.93 L266.85 314.4 L267.8 314.4 L269.22 313.93 L270.16 312.98M269.69 310.62 L269.69 309.2 L269.22 308.25M266.85 307.78 L265.9 308.25 L264.96 309.2 L264.49 310.62 L264.49 311.56 L264.96 312.98 L265.9 313.93 L266.85 314.4M278.68 304.47 L278.68 314.4M279.15 304.47 L279.15 314.4M278.68 309.2 L277.73 308.25 L276.78 307.78 L275.84 307.78 L274.42 308.25 L273.47 309.2 L273 310.62 L273 311.56 L273.47 312.98 L274.42 313.93 L275.84 314.4 L276.78 314.4 L277.73 313.93 L278.68 312.98M275.84 307.78 L274.89 308.25 L273.95 309.2 L273.47 310.62 L273.47 311.56 L273.95 312.98 L274.89 313.93 L275.84 314.4M277.26 304.47 L279.15 304.47M278.68 314.4 L280.57 314.4M198.27 324.47 L198.27 334.4M198.74 324.47 L204.41 333.45M198.74 325.41 L204.41 334.4M204.41 324.47 L204.41 334.4M196.85 324.47 L198.74 324.47M203 324.47 L205.83 324.47M196.85 334.4 L199.68 334.4M209.14 324.47 L209.14 334.4M209.62 324.47 L209.62 334.4M207.72 324.47 L211.04 324.47M207.72 334.4 L214.82 334.4 L214.82 331.56 L214.35 334.4M220.02 324.47 L218.6 324.94 L217.66 325.89 L217.19 326.83 L216.71 328.72 L216.71 330.14 L217.19 332.03 L217.66 332.98 L218.6 333.93 L220.02 334.4 L220.97 334.4 L222.39 333.93 L223.33 332.98 L223.81 332.03 L224.28 330.14 L224.28 328.72 L223.81 326.83 L223.33 325.89 L222.39 324.94 L220.97 324.47 L220.02 324.47M220.02 324.47 L219.08 324.94 L218.13 325.89 L217.66 326.83 L217.19 328.72 L217.19 330.14 L217.66 332.03 L218.13 332.98 L219.08 333.93 L220.02 334.4M220.97 334.4 L221.92 333.93 L222.86 332.98 L223.33 332.03 L223.81 330.14 L223.81 328.72 L223.33 326.83 L222.86 325.89 L221.92 324.94 L220.97 324.47M200.63 345.57 L199.21 346.04 L198.27 346.99 L197.79 347.93 L197.32 349.82 L197.32 351.24 L197.79 353.13 L198.27 354.08 L199.21 355.03 L200.63 355.5 L201.58 355.5 L203 355.03 L203.94 354.08 L204.41 353.13 L204.89 351.24 L204.89 349.82 L204.41 347.93 L203.94 346.99 L203 346.04 L201.58 345.57 L200.63 345.57M200.63 345.57 L199.68 346.04 L198.74 346.99 L198.27 347.93 L197.79 349.82 L197.79 351.24 L198.27 353.13 L198.74 354.08 L199.68 355.03 L200.63 355.5M201.58 355.5 L202.52 355.03 L203.47 354.08 L203.94 353.13 L204.41 351.24 L204.41 349.82 L203.94 347.93 L203.47 346.99 L202.52 346.04 L201.58 345.57M211.51 343.68 L210.56 344.62 L209.62 346.04 L208.67 347.93 L208.2 350.3 L208.2 352.19 L208.67 354.55 L209.62 356.45 L210.56 357.87 L211.51 358.81M210.56 344.62 L209.62 346.51 L209.14 347.93 L208.67 350.3 L208.67 352.19 L209.14 354.55 L209.62 355.97 L210.56 357.87M217.66 348.88 L216.24 349.35 L215.29 350.3 L214.82 351.24 L214.35 352.66 L214.35 354.08 L214.82 355.03 L216.24 355.5 L217.19 355.5 L218.13 355.03 L219.55 353.61 L220.5 352.19 L221.44 350.3 L221.91 348.88M217.66 348.88 L216.71 349.35 L215.77 350.3 L215.29 351.24 L214.82 352.66 L214.82 354.08 L215.29 355.03 L216.24 355.5M217.66 348.88 L218.6 348.88 L219.55 349.35 L220.02 350.3 L220.97 354.08 L221.44 355.03 L221.91 355.5M218.6 348.88 L219.08 349.35 L219.55 350.3 L220.5 354.08 L220.97 355.03 L221.91 355.5 L222.39 355.5M228.42 355.22 L228.77 354.51 L228.77 355.93 L228.42 355.22 L228.06 354.86 L227.35 354.51 L225.94 354.51 L225.23 354.86 L224.87 355.22 L224.87 355.93 L225.23 356.28 L225.94 356.64 L227.71 357.34 L228.42 357.7 L228.77 358.05M224.87 355.57 L225.23 355.93 L225.94 356.28 L227.71 356.99 L228.42 357.34 L228.77 357.7 L228.77 358.76 L228.42 359.12 L227.71 359.47 L226.29 359.47 L225.58 359.12 L225.23 358.76 L224.87 358.05 L224.87 359.47 L225.23 358.76M231.26 343.68 L232.2 344.62 L233.15 346.04 L234.09 347.93 L234.57 350.3 L234.57 352.19 L234.09 354.55 L233.15 356.45 L232.2 357.87 L231.26 358.81M232.2 344.62 L233.15 346.51 L233.62 347.93 L234.09 350.3 L234.09 352.19 L233.62 354.55 L233.15 355.97 L232.2 357.87M245.92 351.72 L251.6 351.72 L251.6 350.77 L251.12 349.82 L250.65 349.35 L249.7 348.88 L248.28 348.88 L246.87 349.35 L245.92 350.3 L245.45 351.72 L245.45 352.66 L245.92 354.08 L246.87 355.03 L248.28 355.5 L249.23 355.5 L250.65 355.03 L251.6 354.08M251.12 351.72 L251.12 350.3 L250.65 349.35M248.28 348.88 L247.34 349.35 L246.39 350.3 L245.92 351.72 L245.92 352.66 L246.39 354.08 L247.34 355.03 L248.28 355.5M254.91 348.88 L260.11 355.5M255.38 348.88 L260.58 355.5M260.58 348.88 L254.91 355.5M253.96 348.88 L256.8 348.88M258.69 348.88 L261.53 348.88M253.96 355.5 L256.8 355.5M258.69 355.5 L261.53 355.5M264.84 348.88 L264.84 358.81M265.31 348.88 L265.31 358.81M265.31 350.3 L266.26 349.35 L267.2 348.88 L268.15 348.88 L269.57 349.35 L270.52 350.3 L270.99 351.72 L270.99 352.66 L270.52 354.08 L269.57 355.03 L268.15 355.5 L267.2 355.5 L266.26 355.03 L265.31 354.08M268.15 348.88 L269.1 349.35 L270.04 350.3 L270.52 351.72 L270.52 352.66 L270.04 354.08 L269.1 355.03 L268.15 355.5M263.42 348.88 L265.31 348.88M263.42 358.81 L266.73 358.81M274.77 354.55 L274.3 355.03 L274.77 355.5 L275.25 355.03 L274.77 354.55M150.77 377.28 L150.77 382.48 L151.24 383.43 L152.66 383.9 L153.6 383.9 L155.02 383.43 L155.97 382.48M151.24 377.28 L151.24 382.48 L151.71 383.43 L152.66 383.9M155.97 377.28 L155.97 383.9M156.44 377.28 L156.44 383.9M149.35 377.28 L151.24 377.28M154.55 377.28 L156.44 377.28M155.97 383.9 L157.86 383.9M161.17 377.28 L161.17 387.21M161.64 377.28 L161.64 387.21M161.64 378.7 L162.59 377.75 L163.54 377.28 L164.48 377.28 L165.9 377.75 L166.85 378.7 L167.32 380.12 L167.32 381.06 L166.85 382.48 L165.9 383.43 L164.48 383.9 L163.54 383.9 L162.59 383.43 L161.64 382.48M164.48 377.28 L165.43 377.75 L166.37 378.7 L166.85 380.12 L166.85 381.06 L166.37 382.48 L165.43 383.43 L164.48 383.9M159.75 377.28 L161.64 377.28M159.75 387.21 L163.06 387.21M171.1 377.28 L171.1 387.21M171.58 377.28 L171.58 387.21M171.58 378.7 L172.52 377.75 L173.47 377.28 L174.41 377.28 L175.83 377.75 L176.78 378.7 L177.25 380.12 L177.25 381.06 L176.78 382.48 L175.83 383.43 L174.41 383.9 L173.47 383.9 L172.52 383.43 L171.58 382.48M174.41 377.28 L175.36 377.75 L176.31 378.7 L176.78 380.12 L176.78 381.06 L176.31 382.48 L175.36 383.43 L174.41 383.9M169.69 377.28 L171.58 377.28M169.69 387.21 L173 387.21M180.56 380.12 L186.24 380.12 L186.24 379.17 L185.77 378.22 L185.29 377.75 L184.35 377.28 L182.93 377.28 L181.51 377.75 L180.56 378.7 L180.09 380.12 L180.09 381.06 L180.56 382.48 L181.51 383.43 L182.93 383.9 L183.88 383.9 L185.29 383.43 L186.24 382.48M185.77 380.12 L185.77 378.7 L185.29 377.75M182.93 377.28 L181.98 377.75 L181.04 378.7 L180.56 380.12 L180.56 381.06 L181.04 382.48 L181.98 383.43 L182.93 383.9M190.02 377.28 L190.02 383.9M190.5 377.28 L190.5 383.9M190.5 380.12 L190.97 378.7 L191.92 377.75 L192.86 377.28 L194.28 377.28 L194.75 377.75 L194.75 378.22 L194.28 378.7 L193.81 378.22 L194.28 377.75M188.6 377.28 L190.5 377.28M188.6 383.9 L191.92 383.9M198.06 377.28 L197.59 377.75 L198.06 378.22 L198.54 377.75 L198.06 377.28M198.06 382.95 L197.59 383.43 L198.06 383.9 L198.54 383.43 L198.06 382.95M211.31 377.28 L208.47 387.21M211.78 377.28 L208.94 387.21M211.31 378.7 L210.84 381.53 L210.84 382.95 L211.78 383.9 L212.73 383.9 L213.67 383.43 L214.62 382.48 L215.57 381.06M216.51 377.28 L215.09 382.48 L215.09 383.43 L215.57 383.9 L216.98 383.9 L217.93 382.95 L218.4 382.01M216.98 377.28 L215.57 382.48 L215.57 383.43 L216.04 383.9M228.34 378.22 L236.85 378.22M228.34 381.06 L236.85 381.06M248.68 373.97 L248.68 383.9M249.15 373.97 L251.99 382.48M248.68 373.97 L251.99 383.9M255.3 373.97 L251.99 383.9M255.3 373.97 L255.3 383.9M255.77 373.97 L255.77 383.9M247.26 373.97 L249.15 373.97M255.3 373.97 L257.19 373.97M247.26 383.9 L250.09 383.9M253.88 383.9 L257.19 383.9M150.77 395.17 L150.77 405.1M151.24 395.17 L151.24 405.1M149.35 395.17 L151.24 395.17M149.35 405.1 L152.66 405.1M157.86 398.48 L156.44 398.95 L155.5 399.9 L155.02 401.32 L155.02 402.26 L155.5 403.68 L156.44 404.63 L157.86 405.1 L158.81 405.1 L160.23 404.63 L161.17 403.68 L161.64 402.26 L161.64 401.32 L161.17 399.9 L160.23 398.95 L158.81 398.48 L157.86 398.48M157.86 398.48 L156.91 398.95 L155.97 399.9 L155.5 401.32 L155.5 402.26 L155.97 403.68 L156.91 404.63 L157.86 405.1M158.81 405.1 L159.75 404.63 L160.7 403.68 L161.17 402.26 L161.17 401.32 L160.7 399.9 L159.75 398.95 L158.81 398.48M164.96 398.48 L166.85 405.1M165.43 398.48 L166.85 403.68M168.74 398.48 L166.85 405.1M168.74 398.48 L170.63 405.1M169.21 398.48 L170.63 403.68M172.52 398.48 L170.63 405.1M163.54 398.48 L166.85 398.48M171.1 398.48 L173.94 398.48M176.31 401.32 L181.98 401.32 L181.98 400.37 L181.51 399.42 L181.04 398.95 L180.09 398.48 L178.67 398.48 L177.25 398.95 L176.31 399.9 L175.83 401.32 L175.83 402.26 L176.31 403.68 L177.25 404.63 L178.67 405.1 L179.62 405.1 L181.04 404.63 L181.98 403.68M181.51 401.32 L181.51 399.9 L181.04 398.95M178.67 398.48 L177.73 398.95 L176.78 399.9 L176.31 401.32 L176.31 402.26 L176.78 403.68 L177.73 404.63 L178.67 405.1M185.77 398.48 L185.77 405.1M186.24 398.48 L186.24 405.1M186.24 401.32 L186.71 399.9 L187.66 398.95 L188.61 398.48 L190.02 398.48 L190.5 398.95 L190.5 399.42 L190.02 399.9 L189.55 399.42 L190.02 398.95M184.35 398.48 L186.24 398.48M184.35 405.1 L187.66 405.1M193.81 398.48 L193.34 398.95 L193.81 399.42 L194.28 398.95 L193.81 398.48M193.81 404.15 L193.34 404.63 L193.81 405.1 L194.28 404.63 L193.81 404.15M207.05 398.48 L204.21 408.41M207.53 398.48 L204.69 408.41M207.05 399.9 L206.58 402.74 L206.58 404.15 L207.53 405.1 L208.47 405.1 L209.42 404.63 L210.36 403.68 L211.31 402.26M212.26 398.48 L210.84 403.68 L210.84 404.63 L211.31 405.1 L212.73 405.1 L213.67 404.15 L214.15 403.21M212.73 398.48 L211.31 403.68 L211.31 404.63 L211.78 405.1M224.08 399.42 L232.59 399.42M224.08 402.26 L232.59 402.26M243.95 397.06 L244.42 397.53 L243.95 398 L243.47 397.53 L243.47 397.06 L243.95 396.11 L244.42 395.64 L245.84 395.17 L247.73 395.17 L249.15 395.64 L249.62 396.11 L250.1 397.06 L250.1 398 L249.62 398.95 L248.2 399.9 L245.84 400.84 L244.89 401.32 L243.95 402.26 L243.47 403.68 L243.47 405.1M247.73 395.17 L248.68 395.64 L249.15 396.11 L249.62 397.06 L249.62 398 L249.15 398.95 L247.73 399.9 L245.84 400.84M243.47 404.15 L243.95 403.68 L244.89 403.68 L247.26 404.63 L248.68 404.63 L249.62 404.15 L250.1 403.68M244.89 403.68 L247.26 405.1 L249.15 405.1 L249.62 404.63 L250.1 403.68 L250.1 402.74M253.88 395.17 L253.88 405.1M254.35 395.17 L257.19 403.68M253.88 395.17 L257.19 405.1M260.5 395.17 L257.19 405.1M260.5 395.17 L260.5 405.1M260.97 395.17 L260.97 405.1M252.46 395.17 L254.35 395.17M260.5 395.17 L262.39 395.17M252.46 405.1 L255.3 405.1M259.08 405.1 L262.39 405.1M500.26 31.37 L500.26 41.3M500.74 31.37 L500.74 41.3M503.58 34.2 L503.58 37.99M498.85 31.37 L506.41 31.37 L506.41 34.2 L505.94 31.37M500.74 36.1 L503.58 36.1M498.85 41.3 L506.41 41.3 L506.41 38.46 L505.94 41.3M509.25 31.37 L509.25 34.2M509.25 33.26 L509.72 32.31 L510.67 31.37 L511.62 31.37 L513.98 32.79 L514.93 32.79 L515.4 32.31 L515.87 31.37M509.72 32.31 L510.67 31.84 L511.62 31.84 L513.98 32.79M515.87 31.37 L515.87 32.79 L515.4 34.2 L513.51 36.57 L513.04 37.52 L512.56 38.93 L512.56 41.3M515.4 34.2 L513.04 36.57 L512.56 37.52 L512.09 38.93 L512.09 41.3M521.55 31.37 L520.13 31.84 L519.19 33.26 L518.71 35.62 L518.71 37.04 L519.19 39.41 L520.13 40.83 L521.55 41.3 L522.5 41.3 L523.91 40.83 L524.86 39.41 L525.33 37.04 L525.33 35.62 L524.86 33.26 L523.91 31.84 L522.5 31.37 L521.55 31.37M521.55 31.37 L520.6 31.84 L520.13 32.31 L519.66 33.26 L519.19 35.62 L519.19 37.04 L519.66 39.41 L520.13 40.35 L520.6 40.83 L521.55 41.3M522.5 41.3 L523.44 40.83 L523.91 40.35 L524.39 39.41 L524.86 37.04 L524.86 35.62 L524.39 33.26 L523.91 32.31 L523.44 31.84 L522.5 31.37M533.85 32.79 L533.38 33.26 L533.85 33.73 L534.32 33.26 L534.32 32.79 L533.85 31.84 L532.9 31.37 L531.48 31.37 L530.06 31.84 L529.12 32.79 L528.65 33.73 L528.17 35.62 L528.17 38.46 L528.65 39.88 L529.59 40.83 L531.01 41.3 L531.96 41.3 L533.38 40.83 L534.32 39.88 L534.79 38.46 L534.79 37.99 L534.32 36.57 L533.38 35.62 L531.96 35.15 L531.48 35.15 L530.06 35.62 L529.12 36.57 L528.65 37.99M531.48 31.37 L530.54 31.84 L529.59 32.79 L529.12 33.73 L528.65 35.62 L528.65 38.46 L529.12 39.88 L530.06 40.83 L531.01 41.3M531.96 41.3 L532.9 40.83 L533.85 39.88 L534.32 38.46 L534.32 37.99 L533.85 36.57 L532.9 35.62 L531.96 35.15M553.71 34.68 L553.71 44.61M554.19 34.68 L554.19 44.61M554.19 36.1 L555.13 35.15 L556.08 34.68 L557.03 34.68 L558.44 35.15 L559.39 36.1 L559.86 37.52 L559.86 38.46 L559.39 39.88 L558.44 40.83 L557.03 41.3 L556.08 41.3 L555.13 40.83 L554.19 39.88M557.03 34.68 L557.97 35.15 L558.92 36.1 L559.39 37.52 L559.39 38.46 L558.92 39.88 L557.97 40.83 L557.03 41.3M552.3 34.68 L554.19 34.68M552.3 44.61 L555.61 44.61M563.65 31.37 L563.65 41.3M564.12 31.37 L564.12 41.3M562.23 31.37 L567.9 31.37 L569.32 31.84 L569.8 32.31 L570.27 33.26 L570.27 34.2 L569.8 35.15 L569.32 35.62 L567.9 36.1M567.9 31.37 L568.85 31.84 L569.32 32.31 L569.8 33.26 L569.8 34.2 L569.32 35.15 L568.85 35.62 L567.9 36.1M564.12 36.1 L567.9 36.1 L569.32 36.57 L569.8 37.04 L570.27 37.99 L570.27 39.41 L569.8 40.35 L569.32 40.83 L567.9 41.3 L562.23 41.3M567.9 36.1 L568.85 36.57 L569.32 37.04 L569.8 37.99 L569.8 39.41 L569.32 40.35 L568.85 40.83 L567.9 41.3M573.58 37.52 L579.26 37.52 L579.26 36.57 L578.78 35.62 L578.31 35.15 L577.36 34.68 L575.94 34.68 L574.53 35.15 L573.58 36.1 L573.11 37.52 L573.11 38.46 L573.58 39.88 L574.53 40.83 L575.94 41.3 L576.89 41.3 L578.31 40.83 L579.26 39.88M578.78 37.52 L578.78 36.1 L578.31 35.15M575.94 34.68 L575 35.15 L574.05 36.1 L573.58 37.52 L573.58 38.46 L574.05 39.88 L575 40.83 L575.94 41.3M589.66 36.1 L591.08 37.04 L589.66 37.99M588.24 34.68 L590.61 37.04 L588.24 39.41M582.57 37.04 L590.61 37.04M597.23 35.15 L595.34 41.3M597.23 35.15 L595.81 41.3M600.07 35.15 L600.07 41.3M600.07 35.15 L600.54 41.3M593.92 36.1 L594.87 35.15 L596.28 34.68 L602.43 34.68M593.92 36.1 L594.87 35.62 L596.28 35.15 L602.43 35.15M606.57 27.13 L605.51 27.49 L604.8 28.55 L604.44 30.33 L604.44 31.39 L604.8 33.16 L605.51 34.23 L606.57 34.58 L607.28 34.58 L608.35 34.23 L609.05 33.16 L609.41 31.39 L609.41 30.33 L609.05 28.55 L608.35 27.49 L607.28 27.13 L606.57 27.13M606.57 27.13 L605.86 27.49 L605.51 27.84 L605.15 28.55 L604.8 30.33 L604.8 31.39 L605.15 33.16 L605.51 33.87 L605.86 34.23 L606.57 34.58M607.28 34.58 L607.99 34.23 L608.35 33.87 L608.7 33.16 L609.05 31.39 L609.05 30.33 L608.7 28.55 L608.35 27.84 L607.99 27.49 L607.28 27.13M614.73 35.15 L612.84 41.3M614.73 35.15 L613.31 41.3M617.57 35.15 L617.57 41.3M617.57 35.15 L618.04 41.3M611.42 36.1 L612.37 35.15 L613.78 34.68 L619.93 34.68M611.42 36.1 L612.37 35.62 L613.78 35.15 L619.93 35.15M624.07 27.13 L623.01 27.49 L622.3 28.55 L621.94 30.33 L621.94 31.39 L622.3 33.16 L623.01 34.23 L624.07 34.58 L624.78 34.58 L625.85 34.23 L626.56 33.16 L626.91 31.39 L626.91 30.33 L626.56 28.55 L625.85 27.49 L624.78 27.13 L624.07 27.13M624.07 27.13 L623.36 27.49 L623.01 27.84 L622.65 28.55 L622.3 30.33 L622.3 31.39 L622.65 33.16 L623.01 33.87 L623.36 34.23 L624.07 34.58M624.78 34.58 L625.49 34.23 L625.85 33.87 L626.2 33.16 L626.56 31.39 L626.56 30.33 L626.2 28.55 L625.85 27.84 L625.49 27.49 L624.78 27.13M629.39 31.37 L635.54 41.3M629.87 31.37 L636.02 41.3M636.02 31.37 L629.39 41.3M628.45 31.37 L631.29 31.37M634.12 31.37 L636.96 31.37M628.45 41.3 L631.29 41.3M634.12 41.3 L636.96 41.3M503.55 64.22 L504.02 63.28 L504.02 65.17 L503.55 64.22 L503.08 63.75 L502.13 63.28 L500.24 63.28 L499.29 63.75 L498.82 64.22 L498.82 65.17 L499.29 65.64 L500.24 66.12 L502.6 67.06 L503.55 67.54 L504.02 68.01M498.82 64.7 L499.29 65.17 L500.24 65.64 L502.6 66.59 L503.55 67.06 L504.02 67.54 L504.02 68.95 L503.55 69.43 L502.6 69.9 L500.71 69.9 L499.76 69.43 L499.29 68.95 L498.82 68.01 L498.82 69.9 L499.29 68.95M508.52 57.65 L509.16 57.34 L510.11 56.39 L510.11 63.04M509.79 56.7 L509.79 63.04M508.52 63.04 L511.38 63.04M519.3 55.12 L513.6 65.26M521.2 57.65 L521.52 57.97 L521.2 58.29 L520.88 57.97 L520.88 57.65 L521.2 57.02 L521.52 56.7 L522.47 56.39 L523.74 56.39 L524.69 56.7 L525 57.02 L525.32 57.65 L525.32 58.29 L525 58.92 L524.05 59.56 L522.47 60.19 L521.84 60.51 L521.2 61.14 L520.88 62.09 L520.88 63.04M523.74 56.39 L524.37 56.7 L524.69 57.02 L525 57.65 L525 58.29 L524.69 58.92 L523.74 59.56 L522.47 60.19M520.88 62.41 L521.2 62.09 L521.84 62.09 L523.42 62.72 L524.37 62.72 L525 62.41 L525.32 62.09M521.84 62.09 L523.42 63.04 L524.69 63.04 L525 62.72 L525.32 62.09 L525.32 61.46M535.73 64.22 L544.25 64.22M535.73 67.06 L544.25 67.06M555.6 61.86 L556.07 62.33 L555.6 62.81 L555.12 62.33 L555.12 61.86 L555.6 60.91 L556.07 60.44 L557.49 59.97 L559.38 59.97 L560.8 60.44 L561.27 61.39 L561.27 62.81 L560.8 63.75 L559.38 64.22 L557.96 64.22M559.38 59.97 L560.33 60.44 L560.8 61.39 L560.8 62.81 L560.33 63.75 L559.38 64.22M559.38 64.22 L560.33 64.7 L561.27 65.64 L561.75 66.59 L561.75 68.01 L561.27 68.95 L560.8 69.43 L559.38 69.9 L557.49 69.9 L556.07 69.43 L555.6 68.95 L555.12 68.01 L555.12 67.54 L555.6 67.06 L556.07 67.54 L555.6 68.01M560.8 65.17 L561.27 66.59 L561.27 68.01 L560.8 68.95 L560.33 69.43 L559.38 69.9M566 61.86 L566.95 61.39 L568.37 59.97 L568.37 69.9M567.9 60.44 L567.9 69.9M566 69.9 L570.26 69.9M574.99 68.95 L574.52 69.43 L574.99 69.9 L575.46 69.43 L574.99 68.95M584.45 61.39 L583.98 61.86 L584.45 62.33 L584.92 61.86 L584.92 61.39 L584.45 60.44 L583.5 59.97 L582.09 59.97 L580.67 60.44 L579.72 61.39 L579.25 62.33 L578.77 64.22 L578.77 67.06 L579.25 68.48 L580.19 69.43 L581.61 69.9 L582.56 69.9 L583.98 69.43 L584.92 68.48 L585.4 67.06 L585.4 66.59 L584.92 65.17 L583.98 64.22 L582.56 63.75 L582.09 63.75 L580.67 64.22 L579.72 65.17 L579.25 66.59M582.09 59.97 L581.14 60.44 L580.19 61.39 L579.72 62.33 L579.25 64.22 L579.25 67.06 L579.72 68.48 L580.67 69.43 L581.61 69.9M582.56 69.9 L583.5 69.43 L584.45 68.48 L584.92 67.06 L584.92 66.59 L584.45 65.17 L583.5 64.22 L582.56 63.75M602.42 61.39 L602.9 62.81 L602.9 59.97 L602.42 61.39 L601.48 60.44 L600.06 59.97 L599.11 59.97 L597.69 60.44 L596.75 61.39 L596.28 62.33 L595.8 63.75 L595.8 66.12 L596.28 67.54 L596.75 68.48 L597.69 69.43 L599.11 69.9 L600.06 69.9 L601.48 69.43 L602.42 68.48M599.11 59.97 L598.17 60.44 L597.22 61.39 L596.75 62.33 L596.28 63.75 L596.28 66.12 L596.75 67.54 L597.22 68.48 L598.17 69.43 L599.11 69.9M602.42 66.12 L602.42 69.9M602.9 66.12 L602.9 69.9M601.01 66.12 L604.32 66.12M607.15 66.12 L612.83 66.12 L612.83 65.17 L612.36 64.22 L611.88 63.75 L610.94 63.28 L609.52 63.28 L608.1 63.75 L607.15 64.7 L606.68 66.12 L606.68 67.06 L607.15 68.48 L608.1 69.43 L609.52 69.9 L610.47 69.9 L611.88 69.43 L612.83 68.48M612.36 66.12 L612.36 64.7 L611.88 63.75M609.52 63.28 L608.57 63.75 L607.63 64.7 L607.15 66.12 L607.15 67.06 L607.63 68.48 L608.57 69.43 L609.52 69.9M615.67 59.97 L618.98 69.9M616.14 59.97 L618.98 68.48M622.29 59.97 L618.98 69.9M614.72 59.97 L617.56 59.97M620.4 59.97 L623.24 59.97M547.16 463.07 L547.16 473M547.64 463.07 L550.48 471.58M547.16 463.07 L550.48 473M553.79 463.07 L550.48 473M553.79 463.07 L553.79 473M554.26 463.07 L554.26 473M545.75 463.07 L547.64 463.07M553.79 463.07 L555.68 463.07M545.75 473 L548.58 473M552.37 473 L555.68 473M569.4 461.18 L568.45 462.12 L567.5 463.54 L566.56 465.43 L566.09 467.8 L566.09 469.69 L566.56 472.05 L567.5 473.95 L568.45 475.37 L569.4 476.31M568.45 462.12 L567.5 464.01 L567.03 465.43 L566.56 467.8 L566.56 469.69 L567.03 472.05 L567.5 473.47 L568.45 475.37M578.86 464.49 L579.33 465.9 L579.33 463.07 L578.86 464.49 L577.91 463.54 L576.49 463.07 L575.54 463.07 L574.13 463.54 L573.18 464.49 L572.71 465.43 L572.23 466.85 L572.23 469.22 L572.71 470.63 L573.18 471.58 L574.13 472.53 L575.54 473 L576.49 473 L577.91 472.53 L578.86 471.58M575.54 463.07 L574.6 463.54 L573.65 464.49 L573.18 465.43 L572.71 466.85 L572.71 469.22 L573.18 470.63 L573.65 471.58 L574.6 472.53 L575.54 473M578.86 469.22 L578.86 473M579.33 469.22 L579.33 473M577.44 469.22 L580.75 469.22M583.59 469.22 L589.26 469.22 L589.26 468.27 L588.79 467.32 L588.32 466.85 L587.37 466.38 L585.95 466.38 L584.53 466.85 L583.59 467.8 L583.11 469.22 L583.11 470.16 L583.59 471.58 L584.53 472.53 L585.95 473 L586.9 473 L588.32 472.53 L589.26 471.58M588.79 469.22 L588.79 467.8 L588.32 466.85M585.95 466.38 L585 466.85 L584.06 467.8 L583.59 469.22 L583.59 470.16 L584.06 471.58 L585 472.53 L585.95 473M592.1 463.07 L595.41 473M592.57 463.07 L595.41 471.58M598.72 463.07 L595.41 473M591.15 463.07 L593.99 463.07M596.83 463.07 L599.67 463.07M601.56 461.18 L602.51 462.12 L603.45 463.54 L604.4 465.43 L604.87 467.8 L604.87 469.69 L604.4 472.05 L603.45 473.95 L602.51 475.37 L601.56 476.31M602.51 462.12 L603.45 464.01 L603.92 465.43 L604.4 467.8 L604.4 469.69 L603.92 472.05 L603.45 473.47 L602.51 475.37M150.21 442.11 L150.21 451.1M150.68 441.17 L150.68 451.1M150.68 441.17 L145.48 448.26 L153.04 448.26M148.79 451.1 L152.1 451.1M246.03 442.59 L245.55 443.06 L246.03 443.53 L246.5 443.06 L246.5 442.59 L246.03 441.64 L245.08 441.17 L243.66 441.17 L242.24 441.64 L241.3 442.59 L240.82 443.53 L240.35 445.42 L240.35 448.26 L240.82 449.68 L241.77 450.63 L243.19 451.1 L244.13 451.1 L245.55 450.63 L246.5 449.68 L246.97 448.26 L246.97 447.79 L246.5 446.37 L245.55 445.42 L244.13 444.95 L243.66 444.95 L242.24 445.42 L241.3 446.37 L240.82 447.79M243.66 441.17 L242.71 441.64 L241.77 442.59 L241.3 443.53 L240.82 445.42 L240.82 448.26 L241.3 449.68 L242.24 450.63 L243.19 451.1M244.13 451.1 L245.08 450.63 L246.03 449.68 L246.5 448.26 L246.5 447.79 L246.03 446.37 L245.08 445.42 L244.13 444.95M337.11 441.17 L335.69 441.64 L335.22 442.59 L335.22 444 L335.69 444.95 L337.11 445.42 L339.01 445.42 L340.43 444.95 L340.9 444 L340.9 442.59 L340.43 441.64 L339.01 441.17 L337.11 441.17M337.11 441.17 L336.17 441.64 L335.69 442.59 L335.69 444 L336.17 444.95 L337.11 445.42M339.01 445.42 L339.95 444.95 L340.43 444 L340.43 442.59 L339.95 441.64 L339.01 441.17M337.11 445.42 L335.69 445.9 L335.22 446.37 L334.75 447.32 L334.75 449.21 L335.22 450.15 L335.69 450.63 L337.11 451.1 L339.01 451.1 L340.43 450.63 L340.9 450.15 L341.37 449.21 L341.37 447.32 L340.9 446.37 L340.43 445.9 L339.01 445.42M337.11 445.42 L336.17 445.9 L335.69 446.37 L335.22 447.32 L335.22 449.21 L335.69 450.15 L336.17 450.63 L337.11 451.1M339.01 451.1 L339.95 450.63 L340.43 450.15 L340.9 449.21 L340.9 447.32 L340.43 446.37 L339.95 445.9 L339.01 445.42M425.84 443.06 L426.78 442.59 L428.2 441.17 L428.2 451.1M427.73 441.64 L427.73 451.1M425.84 451.1 L430.1 451.1M436.72 441.17 L435.3 441.64 L434.35 443.06 L433.88 445.42 L433.88 446.84 L434.35 449.21 L435.3 450.63 L436.72 451.1 L437.66 451.1 L439.08 450.63 L440.03 449.21 L440.5 446.84 L440.5 445.42 L440.03 443.06 L439.08 441.64 L437.66 441.17 L436.72 441.17M436.72 441.17 L435.77 441.64 L435.3 442.11 L434.83 443.06 L434.35 445.42 L434.35 446.84 L434.83 449.21 L435.3 450.15 L435.77 450.63 L436.72 451.1M437.66 451.1 L438.61 450.63 L439.08 450.15 L439.56 449.21 L440.03 446.84 L440.03 445.42 L439.56 443.06 L439.08 442.11 L438.61 441.64 L437.66 441.17M520.24 443.06 L521.18 442.59 L522.6 441.17 L522.6 451.1M522.13 441.64 L522.13 451.1M520.24 451.1 L524.5 451.1M528.75 443.06 L529.23 443.53 L528.75 444 L528.28 443.53 L528.28 443.06 L528.75 442.11 L529.23 441.64 L530.64 441.17 L532.54 441.17 L533.96 441.64 L534.43 442.11 L534.9 443.06 L534.9 444 L534.43 444.95 L533.01 445.9 L530.64 446.84 L529.7 447.32 L528.75 448.26 L528.28 449.68 L528.28 451.1M532.54 441.17 L533.48 441.64 L533.96 442.11 L534.43 443.06 L534.43 444 L533.96 444.95 L532.54 445.9 L530.64 446.84M528.28 450.15 L528.75 449.68 L529.7 449.68 L532.06 450.63 L533.48 450.63 L534.43 450.15 L534.9 449.68M529.7 449.68 L532.06 451.1 L533.96 451.1 L534.43 450.63 L534.9 449.68 L534.9 448.74M614.64 443.06 L615.58 442.59 L617 441.17 L617 451.1M616.53 441.64 L616.53 451.1M614.64 451.1 L618.89 451.1M626.94 442.11 L626.94 451.1M627.41 441.17 L627.41 451.1M627.41 441.17 L622.21 448.26 L629.77 448.26M625.52 451.1 L628.83 451.1M63.56 52.09 L64.5 51.62 L65.92 50.2 L65.92 60.13M65.45 50.67 L65.45 60.13M63.56 60.13 L67.81 60.13M74.44 50.2 L73.02 50.67 L72.07 52.09 L71.6 54.45 L71.6 55.87 L72.07 58.24 L73.02 59.66 L74.44 60.13 L75.38 60.13 L76.8 59.66 L77.75 58.24 L78.22 55.87 L78.22 54.45 L77.75 52.09 L76.8 50.67 L75.38 50.2 L74.44 50.2M74.44 50.2 L73.49 50.67 L73.02 51.14 L72.54 52.09 L72.07 54.45 L72.07 55.87 L72.54 58.24 L73.02 59.18 L73.49 59.66 L74.44 60.13M75.38 60.13 L76.33 59.66 L76.8 59.18 L77.27 58.24 L77.75 55.87 L77.75 54.45 L77.27 52.09 L76.8 51.14 L76.33 50.67 L75.38 50.2M85.32 45.23 L85.32 54.22M85.79 44.28 L85.79 54.22M85.79 44.28 L80.59 51.38 L88.15 51.38M83.9 54.22 L87.21 54.22M63.56 177.73 L64.5 177.26 L65.92 175.84 L65.92 185.77M65.45 176.31 L65.45 185.77M63.56 185.77 L67.81 185.77M74.44 175.84 L73.02 176.31 L72.07 177.73 L71.6 180.09 L71.6 181.51 L72.07 183.88 L73.02 185.3 L74.44 185.77 L75.38 185.77 L76.8 185.3 L77.75 183.88 L78.22 181.51 L78.22 180.09 L77.75 177.73 L76.8 176.31 L75.38 175.84 L74.44 175.84M74.44 175.84 L73.49 176.31 L73.02 176.78 L72.54 177.73 L72.07 180.09 L72.07 181.51 L72.54 183.88 L73.02 184.82 L73.49 185.3 L74.44 185.77M75.38 185.77 L76.33 185.3 L76.8 184.82 L77.27 183.88 L77.75 181.51 L77.75 180.09 L77.27 177.73 L76.8 176.78 L76.33 176.31 L75.38 175.84M81.53 171.82 L82 172.29 L81.53 172.76 L81.06 172.29 L81.06 171.82 L81.53 170.87 L82 170.4 L83.42 169.92 L85.32 169.92 L86.73 170.4 L87.21 170.87 L87.68 171.82 L87.68 172.76 L87.21 173.71 L85.79 174.65 L83.42 175.6 L82.48 176.07 L81.53 177.02 L81.06 178.44 L81.06 179.86M85.32 169.92 L86.26 170.4 L86.73 170.87 L87.21 171.82 L87.21 172.76 L86.73 173.71 L85.32 174.65 L83.42 175.6M81.06 178.91 L81.53 178.44 L82.48 178.44 L84.84 179.38 L86.26 179.38 L87.21 178.91 L87.68 178.44M82.48 178.44 L84.84 179.86 L86.73 179.86 L87.21 179.38 L87.68 178.44 L87.68 177.49M63.56 303.37 L64.5 302.9 L65.92 301.48 L65.92 311.41M65.45 301.95 L65.45 311.41M63.56 311.41 L67.81 311.41M74.44 301.48 L73.02 301.95 L72.07 303.37 L71.6 305.73 L71.6 307.15 L72.07 309.52 L73.02 310.94 L74.44 311.41 L75.38 311.41 L76.8 310.94 L77.75 309.52 L78.22 307.15 L78.22 305.73 L77.75 303.37 L76.8 301.95 L75.38 301.48 L74.44 301.48M74.44 301.48 L73.49 301.95 L73.02 302.42 L72.54 303.37 L72.07 305.73 L72.07 307.15 L72.54 309.52 L73.02 310.46 L73.49 310.94 L74.44 311.41M75.38 311.41 L76.33 310.94 L76.8 310.46 L77.27 309.52 L77.75 307.15 L77.75 305.73 L77.27 303.37 L76.8 302.42 L76.33 301.95 L75.38 301.48M83.9 295.56 L82.48 296.04 L81.53 297.46 L81.06 299.82 L81.06 301.24 L81.53 303.61 L82.48 305.02 L83.9 305.5 L84.84 305.5 L86.26 305.02 L87.21 303.61 L87.68 301.24 L87.68 299.82 L87.21 297.46 L86.26 296.04 L84.84 295.56 L83.9 295.56M83.9 295.56 L82.95 296.04 L82.48 296.51 L82 297.46 L81.53 299.82 L81.53 301.24 L82 303.61 L82.48 304.55 L82.95 305.02 L83.9 305.5M84.84 305.5 L85.79 305.02 L86.26 304.55 L86.73 303.61 L87.21 301.24 L87.21 299.82 L86.73 297.46 L86.26 296.51 L85.79 296.04 L84.84 295.56M51.26 429.01 L52.21 428.54 L53.62 427.12 L53.62 437.05M53.15 427.59 L53.15 437.05M51.26 437.05 L55.52 437.05M62.14 427.12 L60.72 427.59 L59.77 429.01 L59.3 431.37 L59.3 432.79 L59.77 435.16 L60.72 436.58 L62.14 437.05 L63.08 437.05 L64.5 436.58 L65.45 435.16 L65.92 432.79 L65.92 431.37 L65.45 429.01 L64.5 427.59 L63.08 427.12 L62.14 427.12M62.14 427.12 L61.19 427.59 L60.72 428.06 L60.25 429.01 L59.77 431.37 L59.77 432.79 L60.25 435.16 L60.72 436.1 L61.19 436.58 L62.14 437.05M63.08 437.05 L64.03 436.58 L64.5 436.1 L64.98 435.16 L65.45 432.79 L65.45 431.37 L64.98 429.01 L64.5 428.06 L64.03 427.59 L63.08 427.12M69.23 426.88 L77.75 426.88M81.53 423.1 L82 423.57 L81.53 424.04 L81.06 423.57 L81.06 423.1 L81.53 422.15 L82 421.68 L83.42 421.2 L85.32 421.2 L86.73 421.68 L87.21 422.15 L87.68 423.1 L87.68 424.04 L87.21 424.99 L85.79 425.93 L83.42 426.88 L82.48 427.35 L81.53 428.3 L81.06 429.72 L81.06 431.14M85.32 421.2 L86.26 421.68 L86.73 422.15 L87.21 423.1 L87.21 424.04 L86.73 424.99 L85.32 425.93 L83.42 426.88M81.06 430.19 L81.53 429.72 L82.48 429.72 L84.84 430.66 L86.26 430.66 L87.21 430.19 L87.68 429.72M82.48 429.72 L84.84 431.14 L86.73 431.14 L87.21 430.66 L87.68 429.72 L87.68 428.77" stroke="#000" stroke-width="1.2" stroke-linecap="round"/>
<path transform="translate(12.9 282.6) rotate(-90)" d="M7.09 -9.93 L7.09 0M7.57 -9.93 L7.57 0M7.09 -5.2 L6.15 -6.15 L5.2 -6.62 L4.26 -6.62 L2.84 -6.15 L1.89 -5.2 L1.42 -3.78 L1.42 -2.84 L1.89 -1.42 L2.84 -0.47 L4.26 0 L5.2 0 L6.15 -0.47 L7.09 -1.42M4.26 -6.62 L3.31 -6.15 L2.36 -5.2 L1.89 -3.78 L1.89 -2.84 L2.36 -1.42 L3.31 -0.47 L4.26 0M5.68 -9.93 L7.57 -9.93M7.09 0 L8.99 0M18.92 -6.62 L14.19 -6.62 L12.77 -6.15 L11.82 -4.73 L11.35 -3.31 L11.35 -1.89 L11.82 -0.95 L12.3 -0.47 L13.24 0 L14.19 0 L15.61 -0.47 L16.55 -1.89 L17.03 -3.31 L17.03 -4.73 L16.55 -5.68 L16.08 -6.15 L15.14 -6.62M14.19 -6.62 L13.24 -6.15 L12.3 -4.73 L11.82 -3.31 L11.82 -1.42 L12.3 -0.47M14.19 0 L15.14 -0.47 L16.08 -1.89 L16.55 -3.31 L16.55 -5.2 L16.08 -6.15M16.08 -6.15 L18.92 -6.15M29.33 -11.82 L20.81 3.31M37.37 -9.93 L37.37 0M37.84 -9.93 L37.84 0M37.37 -5.2 L36.42 -6.15 L35.47 -6.62 L34.53 -6.62 L33.11 -6.15 L32.16 -5.2 L31.69 -3.78 L31.69 -2.84 L32.16 -1.42 L33.11 -0.47 L34.53 0 L35.47 0 L36.42 -0.47 L37.37 -1.42M34.53 -6.62 L33.58 -6.15 L32.64 -5.2 L32.16 -3.78 L32.16 -2.84 L32.64 -1.42 L33.58 -0.47 L34.53 0M35.95 -9.93 L37.84 -9.93M37.37 0 L39.26 0M42.57 -9.93 L42.57 0M43.04 -9.93 L45.88 -1.42M42.57 -9.93 L45.88 0M49.19 -9.93 L45.88 0M49.19 -9.93 L49.19 0M49.66 -9.93 L49.66 0M41.15 -9.93 L43.04 -9.93M49.19 -9.93 L51.08 -9.93M41.15 0 L43.99 0M47.77 0 L51.08 0M64.8 -11.82 L63.85 -10.88 L62.91 -9.46 L61.96 -7.57 L61.49 -5.2 L61.49 -3.31 L61.96 -0.95 L62.91 0.95 L63.85 2.36 L64.8 3.31M63.85 -10.88 L62.91 -8.99 L62.44 -7.57 L61.96 -5.2 L61.96 -3.31 L62.44 -0.95 L62.91 0.47 L63.85 2.36M68.58 -6.62 L68.58 3.31M69.06 -6.62 L69.06 3.31M69.06 -5.2 L70 -6.15 L70.95 -6.62 L71.9 -6.62 L73.31 -6.15 L74.26 -5.2 L74.73 -3.78 L74.73 -2.84 L74.26 -1.42 L73.31 -0.47 L71.9 0 L70.95 0 L70 -0.47 L69.06 -1.42M71.9 -6.62 L72.84 -6.15 L73.79 -5.2 L74.26 -3.78 L74.26 -2.84 L73.79 -1.42 L72.84 -0.47 L71.9 0M67.17 -6.62 L69.06 -6.62M67.17 3.31 L70.48 3.31M78.52 -9.93 L78.52 0M78.99 -9.93 L78.99 0M78.99 -5.2 L79.94 -6.15 L80.88 -6.62 L81.83 -6.62 L83.25 -6.15 L84.19 -5.2 L84.67 -3.78 L84.67 -2.84 L84.19 -1.42 L83.25 -0.47 L81.83 0 L80.88 0 L79.94 -0.47 L78.99 -1.42M81.83 -6.62 L82.77 -6.15 L83.72 -5.2 L84.19 -3.78 L84.19 -2.84 L83.72 -1.42 L82.77 -0.47 L81.83 0M77.1 -9.93 L78.99 -9.93M95.55 -11.82 L87.03 3.31M104.53 -8.51 L105.01 -7.09 L105.01 -9.93 L104.53 -8.51 L103.59 -9.46 L102.17 -9.93 L101.22 -9.93 L99.8 -9.46 L98.86 -8.51 L98.38 -7.57 L97.91 -6.15 L97.91 -3.78 L98.38 -2.36 L98.86 -1.42 L99.8 -0.47 L101.22 0 L102.17 0 L103.59 -0.47 L104.53 -1.42M101.22 -9.93 L100.28 -9.46 L99.33 -8.51 L98.86 -7.57 L98.38 -6.15 L98.38 -3.78 L98.86 -2.36 L99.33 -1.42 L100.28 -0.47 L101.22 0M104.53 -3.78 L104.53 0M105.01 -3.78 L105.01 0M103.11 -3.78 L106.42 -3.78M109.26 -3.78 L114.94 -3.78 L114.94 -4.73 L114.47 -5.68 L113.99 -6.15 L113.05 -6.62 L111.63 -6.62 L110.21 -6.15 L109.26 -5.2 L108.79 -3.78 L108.79 -2.84 L109.26 -1.42 L110.21 -0.47 L111.63 0 L112.57 0 L113.99 -0.47 L114.94 -1.42M114.47 -3.78 L114.47 -5.2 L113.99 -6.15M111.63 -6.62 L110.68 -6.15 L109.74 -5.2 L109.26 -3.78 L109.26 -2.84 L109.74 -1.42 L110.68 -0.47 L111.63 0M117.78 -9.93 L121.09 0M118.25 -9.93 L121.09 -1.42M124.4 -9.93 L121.09 0M116.83 -9.93 L119.67 -9.93M122.51 -9.93 L125.34 -9.93M127.24 -11.82 L128.18 -10.88 L129.13 -9.46 L130.07 -7.57 L130.55 -5.2 L130.55 -3.31 L130.07 -0.95 L129.13 0.95 L128.18 2.36 L127.24 3.31M128.18 -10.88 L129.13 -8.99 L129.6 -7.57 L130.07 -5.2 L130.07 -3.31 L129.6 -0.95 L129.13 0.47 L128.18 2.36" stroke="#000" stroke-width="1.2" stroke-linecap="round"/>
</g>
<g>
<text x="497" y="41">E706  pBe&#8594;&#960;&#8304;&#960;&#8304;X</text>
<text x="497" y="70">s^1/2 = 31.6 GeV</text>
<text x="196" y="314">resummed</text>
<text x="196" y="334">NLO</text>
<text x="196" y="355">O(&#945;s) exp.</text>
<text x="148" y="384">upper: &#956; = M</text>
<text x="148" y="405">lower: &#956; = 2M</text>
<text x="545" y="473">M (GeV)</text>
<text x="145" y="451">4</text><text x="239" y="451">6</text><text x="334" y="451">8</text><text x="424" y="451">10</text><text x="518" y="451">12</text><text x="613" y="451">14</text>
<text x="61" y="60">10^4</text><text x="61" y="186">10^2</text><text x="61" y="311">10^0</text><text x="52" y="437">10^-2</text>
<text transform="translate(13 283) rotate(-90)">d&#963;/dM (pb/GeV)</text>
</g>
<defs><clipPath id="cp"><rect x="102.0" y="1.0" width="566.5" height="430.2"/></clipPath></defs>
</svg></body></html>
